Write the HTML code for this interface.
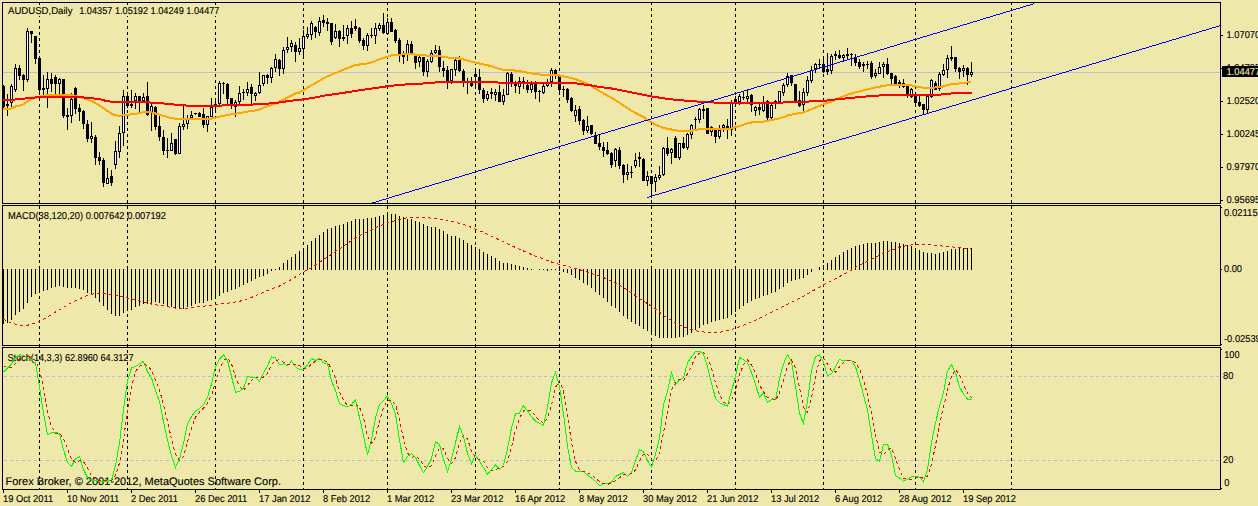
<!DOCTYPE html>
<html><head><meta charset="utf-8"><title>AUDUSD,Daily</title>
<style>html,body{margin:0;padding:0;background:#EEE8AA;overflow:hidden}body{width:1258px;height:506px;font-family:"Liberation Sans",sans-serif}svg{display:block}</style>
</head><body>
<svg width="1258" height="506" viewBox="0 0 1258 506" shape-rendering="crispEdges" text-rendering="geometricPrecision" font-family="Liberation Sans, sans-serif" style="display:block">
<rect x="0" y="0" width="1258" height="506" fill="#EEE8AA" />
<g id="sublabels">
<text x="8" y="219" font-size="10" fill="#000" stroke="#000" stroke-width="0.12" textLength="158" lengthAdjust="spacingAndGlyphs" text-anchor="start">MACD(38,120,20) 0.007642 0.007192</text>
<text x="7.5" y="361" font-size="10" fill="#000" stroke="#000" stroke-width="0.12" textLength="126" lengthAdjust="spacingAndGlyphs" text-anchor="start">Stoch(14,3,3) 62.8960 64.3127</text>
<text x="5.5" y="485" font-size="11" fill="#000" stroke="#000" stroke-width="0.12" textLength="275.5" lengthAdjust="spacingAndGlyphs" text-anchor="start">Forex Broker, © 2001-2012, MetaQuotes Software Corp.</text>
</g>
<g id="grid">
<rect x="3" y="72" width="1217" height="1" fill="#C0C0C8" />
<line x1="39.5" y1="2" x2="39.5" y2="490" stroke="#000" stroke-width="1" stroke-dasharray="3 3" stroke-dashoffset="0"/>
<line x1="127.5" y1="2" x2="127.5" y2="490" stroke="#000" stroke-width="1" stroke-dasharray="3 3" stroke-dashoffset="0"/>
<line x1="215.5" y1="2" x2="215.5" y2="490" stroke="#000" stroke-width="1" stroke-dasharray="3 3" stroke-dashoffset="0"/>
<line x1="303.5" y1="2" x2="303.5" y2="490" stroke="#000" stroke-width="1" stroke-dasharray="3 3" stroke-dashoffset="0"/>
<line x1="387.5" y1="2" x2="387.5" y2="490" stroke="#000" stroke-width="1" stroke-dasharray="3 3" stroke-dashoffset="0"/>
<line x1="475.5" y1="2" x2="475.5" y2="490" stroke="#000" stroke-width="1" stroke-dasharray="3 3" stroke-dashoffset="0"/>
<line x1="559.5" y1="2" x2="559.5" y2="490" stroke="#000" stroke-width="1" stroke-dasharray="3 3" stroke-dashoffset="0"/>
<line x1="651.5" y1="2" x2="651.5" y2="490" stroke="#000" stroke-width="1" stroke-dasharray="3 3" stroke-dashoffset="0"/>
<line x1="735.5" y1="2" x2="735.5" y2="490" stroke="#000" stroke-width="1" stroke-dasharray="3 3" stroke-dashoffset="0"/>
<line x1="823.5" y1="2" x2="823.5" y2="490" stroke="#000" stroke-width="1" stroke-dasharray="3 3" stroke-dashoffset="0"/>
<line x1="915.5" y1="2" x2="915.5" y2="490" stroke="#000" stroke-width="1" stroke-dasharray="3 3" stroke-dashoffset="0"/>
<line x1="1011.5" y1="2" x2="1011.5" y2="490" stroke="#000" stroke-width="1" stroke-dasharray="3 3" stroke-dashoffset="0"/>
<line x1="4" y1="376.5" x2="1220" y2="376.5" stroke="#B8BCD0" stroke-width="1" stroke-dasharray="3 3"/>
<line x1="4" y1="460.5" x2="1220" y2="460.5" stroke="#B8BCD0" stroke-width="1" stroke-dasharray="3 3"/>
</g>
<rect x="8" y="5" width="212" height="11" fill="#EEE8AA" />
<text x="8" y="14" font-size="10" fill="#000" stroke="#000" stroke-width="0.12" textLength="64.5" lengthAdjust="spacingAndGlyphs" text-anchor="start">AUDUSD,Daily</text>
<text x="79.2" y="14" font-size="10" fill="#000" stroke="#000" stroke-width="0.12" textLength="140.3" lengthAdjust="spacingAndGlyphs" text-anchor="start">1.04357 1.05192 1.04249 1.04477</text>
<g id="candles">
<rect x="3" y="85" width="1" height="25" fill="#000" />
<rect x="2" y="86" width="3" height="21" fill="#000" />
<rect x="7" y="94" width="1" height="22" fill="#000" />
<rect x="6" y="104" width="3" height="2" fill="#000" />
<rect x="11" y="84" width="1" height="23" fill="#000" />
<rect x="10" y="86" width="3" height="17" fill="#000" />
<rect x="11" y="87" width="1" height="15" fill="#FFF" />
<rect x="15" y="64" width="1" height="28" fill="#000" />
<rect x="14" y="68" width="3" height="22" fill="#000" />
<rect x="15" y="69" width="1" height="20" fill="#FFF" />
<rect x="19" y="65" width="1" height="15" fill="#000" />
<rect x="18" y="68" width="3" height="8" fill="#000" />
<rect x="23" y="74" width="1" height="17" fill="#000" />
<rect x="22" y="75" width="3" height="5" fill="#000" />
<rect x="27" y="28" width="1" height="54" fill="#000" />
<rect x="26" y="31" width="3" height="49" fill="#000" />
<rect x="27" y="32" width="1" height="47" fill="#FFF" />
<rect x="31" y="31" width="1" height="12" fill="#000" />
<rect x="30" y="31" width="3" height="3" fill="#000" />
<rect x="35" y="36" width="1" height="28" fill="#000" />
<rect x="34" y="36" width="3" height="23" fill="#000" />
<rect x="39" y="58" width="1" height="36" fill="#000" />
<rect x="38" y="58" width="3" height="32" fill="#000" />
<rect x="43" y="75" width="1" height="20" fill="#000" />
<rect x="42" y="88" width="3" height="2" fill="#000" />
<rect x="47" y="72" width="1" height="36" fill="#000" />
<rect x="46" y="79" width="3" height="10" fill="#000" />
<rect x="47" y="80" width="1" height="8" fill="#FFF" />
<rect x="51" y="73" width="1" height="19" fill="#000" />
<rect x="50" y="79" width="3" height="5" fill="#000" />
<rect x="55" y="75" width="1" height="20" fill="#000" />
<rect x="54" y="77" width="3" height="7" fill="#000" />
<rect x="59" y="78" width="1" height="16" fill="#000" />
<rect x="58" y="79" width="3" height="5" fill="#000" />
<rect x="59" y="80" width="1" height="3" fill="#FFF" />
<rect x="63" y="79" width="1" height="39" fill="#000" />
<rect x="62" y="79" width="3" height="37" fill="#000" />
<rect x="67" y="108" width="1" height="22" fill="#000" />
<rect x="66" y="115" width="3" height="2" fill="#000" />
<rect x="71" y="93" width="1" height="30" fill="#000" />
<rect x="70" y="99" width="3" height="17" fill="#000" />
<rect x="71" y="100" width="1" height="15" fill="#FFF" />
<rect x="75" y="87" width="1" height="27" fill="#000" />
<rect x="74" y="88" width="3" height="21" fill="#000" />
<rect x="79" y="104" width="1" height="17" fill="#000" />
<rect x="78" y="108" width="3" height="4" fill="#000" />
<rect x="83" y="110" width="1" height="19" fill="#000" />
<rect x="82" y="111" width="3" height="13" fill="#000" />
<rect x="87" y="120" width="1" height="22" fill="#000" />
<rect x="86" y="124" width="3" height="15" fill="#000" />
<rect x="91" y="122" width="1" height="21" fill="#000" />
<rect x="90" y="136" width="3" height="3" fill="#000" />
<rect x="91" y="137" width="1" height="1" fill="#FFF" />
<rect x="95" y="135" width="1" height="30" fill="#000" />
<rect x="94" y="137" width="3" height="21" fill="#000" />
<rect x="99" y="152" width="1" height="13" fill="#000" />
<rect x="98" y="157" width="3" height="4" fill="#000" />
<rect x="103" y="158" width="1" height="29" fill="#000" />
<rect x="102" y="160" width="3" height="23" fill="#000" />
<rect x="107" y="168" width="1" height="16" fill="#000" />
<rect x="106" y="178" width="3" height="6" fill="#000" />
<rect x="107" y="179" width="1" height="4" fill="#FFF" />
<rect x="111" y="170" width="1" height="16" fill="#000" />
<rect x="110" y="176" width="3" height="7" fill="#000" />
<rect x="115" y="141" width="1" height="28" fill="#000" />
<rect x="114" y="151" width="3" height="14" fill="#000" />
<rect x="115" y="152" width="1" height="12" fill="#FFF" />
<rect x="119" y="126" width="1" height="32" fill="#000" />
<rect x="118" y="133" width="3" height="19" fill="#000" />
<rect x="119" y="134" width="1" height="17" fill="#FFF" />
<rect x="123" y="90" width="1" height="56" fill="#000" />
<rect x="122" y="96" width="3" height="37" fill="#000" />
<rect x="123" y="97" width="1" height="35" fill="#FFF" />
<rect x="127" y="92" width="1" height="16" fill="#000" />
<rect x="126" y="96" width="3" height="10" fill="#000" />
<rect x="131" y="90" width="1" height="18" fill="#000" />
<rect x="130" y="104" width="3" height="2" fill="#000" />
<rect x="135" y="93" width="1" height="16" fill="#000" />
<rect x="134" y="96" width="3" height="5" fill="#000" />
<rect x="135" y="97" width="1" height="3" fill="#FFF" />
<rect x="139" y="96" width="1" height="17" fill="#000" />
<rect x="138" y="96" width="3" height="5" fill="#000" />
<rect x="143" y="93" width="1" height="9" fill="#000" />
<rect x="142" y="97" width="3" height="4" fill="#000" />
<rect x="143" y="98" width="1" height="2" fill="#FFF" />
<rect x="147" y="82" width="1" height="34" fill="#000" />
<rect x="146" y="96" width="3" height="19" fill="#000" />
<rect x="151" y="104" width="1" height="27" fill="#000" />
<rect x="150" y="106" width="3" height="6" fill="#000" />
<rect x="151" y="107" width="1" height="4" fill="#FFF" />
<rect x="155" y="106" width="1" height="24" fill="#000" />
<rect x="154" y="107" width="3" height="20" fill="#000" />
<rect x="159" y="115" width="1" height="26" fill="#000" />
<rect x="158" y="126" width="3" height="11" fill="#000" />
<rect x="163" y="130" width="1" height="25" fill="#000" />
<rect x="162" y="137" width="3" height="14" fill="#000" />
<rect x="167" y="138" width="1" height="20" fill="#000" />
<rect x="166" y="150" width="3" height="1" fill="#000" />
<rect x="171" y="133" width="1" height="18" fill="#000" />
<rect x="170" y="143" width="3" height="8" fill="#000" />
<rect x="171" y="144" width="1" height="6" fill="#FFF" />
<rect x="175" y="139" width="1" height="16" fill="#000" />
<rect x="174" y="139" width="3" height="15" fill="#000" />
<rect x="179" y="123" width="1" height="31" fill="#000" />
<rect x="178" y="126" width="3" height="28" fill="#000" />
<rect x="179" y="127" width="1" height="26" fill="#FFF" />
<rect x="183" y="106" width="1" height="24" fill="#000" />
<rect x="182" y="124" width="3" height="3" fill="#000" />
<rect x="183" y="125" width="1" height="1" fill="#FFF" />
<rect x="187" y="115" width="1" height="14" fill="#000" />
<rect x="186" y="119" width="3" height="5" fill="#000" />
<rect x="187" y="120" width="1" height="3" fill="#FFF" />
<rect x="191" y="111" width="1" height="7" fill="#000" />
<rect x="190" y="115" width="3" height="3" fill="#000" />
<rect x="191" y="116" width="1" height="1" fill="#FFF" />
<rect x="195" y="113" width="1" height="2" fill="#000" />
<rect x="194" y="113" width="3" height="1" fill="#000" />
<rect x="199" y="112" width="1" height="5" fill="#000" />
<rect x="198" y="113" width="3" height="4" fill="#000" />
<rect x="203" y="108" width="1" height="20" fill="#000" />
<rect x="202" y="114" width="3" height="11" fill="#000" />
<rect x="207" y="116" width="1" height="16" fill="#000" />
<rect x="206" y="116" width="3" height="9" fill="#000" />
<rect x="207" y="117" width="1" height="7" fill="#FFF" />
<rect x="211" y="98" width="1" height="19" fill="#000" />
<rect x="210" y="107" width="3" height="10" fill="#000" />
<rect x="211" y="108" width="1" height="8" fill="#FFF" />
<rect x="215" y="98" width="1" height="15" fill="#000" />
<rect x="214" y="104" width="3" height="2" fill="#000" />
<rect x="219" y="81" width="1" height="24" fill="#000" />
<rect x="218" y="83" width="3" height="21" fill="#000" />
<rect x="219" y="84" width="1" height="19" fill="#FFF" />
<rect x="223" y="82" width="1" height="12" fill="#000" />
<rect x="222" y="83" width="3" height="1" fill="#000" />
<rect x="227" y="83" width="1" height="21" fill="#000" />
<rect x="226" y="84" width="3" height="15" fill="#000" />
<rect x="231" y="98" width="1" height="11" fill="#000" />
<rect x="230" y="98" width="3" height="6" fill="#000" />
<rect x="235" y="100" width="1" height="17" fill="#000" />
<rect x="234" y="102" width="3" height="5" fill="#000" />
<rect x="235" y="103" width="1" height="3" fill="#FFF" />
<rect x="239" y="86" width="1" height="18" fill="#000" />
<rect x="238" y="93" width="3" height="9" fill="#000" />
<rect x="239" y="94" width="1" height="7" fill="#FFF" />
<rect x="243" y="89" width="1" height="11" fill="#000" />
<rect x="242" y="92" width="3" height="1" fill="#000" />
<rect x="247" y="82" width="1" height="14" fill="#000" />
<rect x="246" y="89" width="3" height="4" fill="#000" />
<rect x="247" y="90" width="1" height="2" fill="#FFF" />
<rect x="251" y="84" width="1" height="20" fill="#000" />
<rect x="250" y="87" width="3" height="7" fill="#000" />
<rect x="255" y="92" width="1" height="9" fill="#000" />
<rect x="254" y="93" width="3" height="3" fill="#000" />
<rect x="255" y="94" width="1" height="1" fill="#FFF" />
<rect x="259" y="72" width="1" height="22" fill="#000" />
<rect x="258" y="85" width="3" height="8" fill="#000" />
<rect x="259" y="86" width="1" height="6" fill="#FFF" />
<rect x="263" y="75" width="1" height="11" fill="#000" />
<rect x="262" y="75" width="3" height="9" fill="#000" />
<rect x="263" y="76" width="1" height="7" fill="#FFF" />
<rect x="267" y="74" width="1" height="10" fill="#000" />
<rect x="266" y="75" width="3" height="3" fill="#000" />
<rect x="271" y="67" width="1" height="16" fill="#000" />
<rect x="270" y="68" width="3" height="10" fill="#000" />
<rect x="271" y="69" width="1" height="8" fill="#FFF" />
<rect x="275" y="54" width="1" height="18" fill="#000" />
<rect x="274" y="59" width="3" height="9" fill="#000" />
<rect x="275" y="60" width="1" height="7" fill="#FFF" />
<rect x="279" y="59" width="1" height="17" fill="#000" />
<rect x="278" y="60" width="3" height="9" fill="#000" />
<rect x="283" y="47" width="1" height="27" fill="#000" />
<rect x="282" y="50" width="3" height="19" fill="#000" />
<rect x="283" y="51" width="1" height="17" fill="#FFF" />
<rect x="287" y="37" width="1" height="16" fill="#000" />
<rect x="286" y="47" width="3" height="3" fill="#000" />
<rect x="287" y="48" width="1" height="1" fill="#FFF" />
<rect x="291" y="40" width="1" height="12" fill="#000" />
<rect x="290" y="43" width="3" height="4" fill="#000" />
<rect x="291" y="44" width="1" height="2" fill="#FFF" />
<rect x="295" y="42" width="1" height="20" fill="#000" />
<rect x="294" y="45" width="3" height="7" fill="#000" />
<rect x="299" y="38" width="1" height="17" fill="#000" />
<rect x="298" y="48" width="3" height="4" fill="#000" />
<rect x="299" y="49" width="1" height="2" fill="#FFF" />
<rect x="303" y="30" width="1" height="29" fill="#000" />
<rect x="302" y="36" width="3" height="13" fill="#000" />
<rect x="303" y="37" width="1" height="11" fill="#FFF" />
<rect x="307" y="27" width="1" height="12" fill="#000" />
<rect x="306" y="34" width="3" height="3" fill="#000" />
<rect x="307" y="35" width="1" height="1" fill="#FFF" />
<rect x="311" y="21" width="1" height="19" fill="#000" />
<rect x="310" y="23" width="3" height="12" fill="#000" />
<rect x="311" y="24" width="1" height="10" fill="#FFF" />
<rect x="315" y="26" width="1" height="12" fill="#000" />
<rect x="314" y="27" width="3" height="5" fill="#000" />
<rect x="319" y="17" width="1" height="19" fill="#000" />
<rect x="318" y="21" width="3" height="12" fill="#000" />
<rect x="319" y="22" width="1" height="10" fill="#FFF" />
<rect x="323" y="15" width="1" height="12" fill="#000" />
<rect x="322" y="20" width="3" height="3" fill="#000" />
<rect x="327" y="18" width="1" height="13" fill="#000" />
<rect x="326" y="22" width="3" height="2" fill="#000" />
<rect x="331" y="23" width="1" height="22" fill="#000" />
<rect x="330" y="23" width="3" height="19" fill="#000" />
<rect x="335" y="24" width="1" height="15" fill="#000" />
<rect x="334" y="31" width="3" height="7" fill="#000" />
<rect x="335" y="32" width="1" height="5" fill="#FFF" />
<rect x="339" y="30" width="1" height="17" fill="#000" />
<rect x="338" y="31" width="3" height="8" fill="#000" />
<rect x="343" y="25" width="1" height="16" fill="#000" />
<rect x="342" y="37" width="3" height="2" fill="#000" />
<rect x="347" y="25" width="1" height="19" fill="#000" />
<rect x="346" y="28" width="3" height="8" fill="#000" />
<rect x="347" y="29" width="1" height="6" fill="#FFF" />
<rect x="351" y="21" width="1" height="17" fill="#000" />
<rect x="350" y="28" width="3" height="6" fill="#000" />
<rect x="355" y="19" width="1" height="12" fill="#000" />
<rect x="354" y="26" width="3" height="3" fill="#000" />
<rect x="359" y="27" width="1" height="16" fill="#000" />
<rect x="358" y="28" width="3" height="13" fill="#000" />
<rect x="363" y="38" width="1" height="12" fill="#000" />
<rect x="362" y="40" width="3" height="6" fill="#000" />
<rect x="367" y="33" width="1" height="18" fill="#000" />
<rect x="366" y="35" width="3" height="11" fill="#000" />
<rect x="367" y="36" width="1" height="9" fill="#FFF" />
<rect x="371" y="28" width="1" height="10" fill="#000" />
<rect x="370" y="35" width="3" height="1" fill="#000" />
<rect x="375" y="23" width="1" height="21" fill="#000" />
<rect x="374" y="28" width="3" height="8" fill="#000" />
<rect x="375" y="29" width="1" height="6" fill="#FFF" />
<rect x="379" y="23" width="1" height="8" fill="#000" />
<rect x="378" y="25" width="3" height="4" fill="#000" />
<rect x="379" y="26" width="1" height="2" fill="#FFF" />
<rect x="383" y="13" width="1" height="21" fill="#000" />
<rect x="382" y="25" width="3" height="8" fill="#000" />
<rect x="387" y="18" width="1" height="17" fill="#000" />
<rect x="386" y="22" width="3" height="12" fill="#000" />
<rect x="387" y="23" width="1" height="10" fill="#FFF" />
<rect x="391" y="18" width="1" height="14" fill="#000" />
<rect x="390" y="22" width="3" height="10" fill="#000" />
<rect x="395" y="29" width="1" height="14" fill="#000" />
<rect x="394" y="30" width="3" height="11" fill="#000" />
<rect x="399" y="38" width="1" height="24" fill="#000" />
<rect x="398" y="40" width="3" height="14" fill="#000" />
<rect x="403" y="51" width="1" height="13" fill="#000" />
<rect x="402" y="55" width="3" height="2" fill="#000" />
<rect x="407" y="40" width="1" height="21" fill="#000" />
<rect x="406" y="44" width="3" height="10" fill="#000" />
<rect x="407" y="45" width="1" height="8" fill="#FFF" />
<rect x="411" y="41" width="1" height="13" fill="#000" />
<rect x="410" y="44" width="3" height="10" fill="#000" />
<rect x="415" y="55" width="1" height="14" fill="#000" />
<rect x="414" y="56" width="3" height="7" fill="#000" />
<rect x="419" y="56" width="1" height="11" fill="#000" />
<rect x="418" y="57" width="3" height="5" fill="#000" />
<rect x="419" y="58" width="1" height="3" fill="#FFF" />
<rect x="423" y="57" width="1" height="19" fill="#000" />
<rect x="422" y="57" width="3" height="15" fill="#000" />
<rect x="427" y="59" width="1" height="18" fill="#000" />
<rect x="426" y="61" width="3" height="11" fill="#000" />
<rect x="427" y="62" width="1" height="9" fill="#FFF" />
<rect x="431" y="50" width="1" height="13" fill="#000" />
<rect x="430" y="53" width="3" height="9" fill="#000" />
<rect x="431" y="54" width="1" height="7" fill="#FFF" />
<rect x="435" y="45" width="1" height="9" fill="#000" />
<rect x="434" y="50" width="3" height="3" fill="#000" />
<rect x="435" y="51" width="1" height="1" fill="#FFF" />
<rect x="439" y="46" width="1" height="26" fill="#000" />
<rect x="438" y="50" width="3" height="17" fill="#000" />
<rect x="443" y="61" width="1" height="16" fill="#000" />
<rect x="442" y="68" width="3" height="3" fill="#000" />
<rect x="447" y="66" width="1" height="23" fill="#000" />
<rect x="446" y="70" width="3" height="12" fill="#000" />
<rect x="451" y="69" width="1" height="15" fill="#000" />
<rect x="450" y="69" width="3" height="12" fill="#000" />
<rect x="451" y="70" width="1" height="10" fill="#FFF" />
<rect x="455" y="59" width="1" height="17" fill="#000" />
<rect x="454" y="60" width="3" height="10" fill="#000" />
<rect x="455" y="61" width="1" height="8" fill="#FFF" />
<rect x="459" y="56" width="1" height="16" fill="#000" />
<rect x="458" y="60" width="3" height="11" fill="#000" />
<rect x="463" y="69" width="1" height="18" fill="#000" />
<rect x="462" y="71" width="3" height="10" fill="#000" />
<rect x="467" y="78" width="1" height="16" fill="#000" />
<rect x="466" y="82" width="3" height="1" fill="#000" />
<rect x="471" y="77" width="1" height="10" fill="#000" />
<rect x="470" y="83" width="3" height="3" fill="#000" />
<rect x="475" y="70" width="1" height="18" fill="#000" />
<rect x="474" y="74" width="3" height="3" fill="#000" />
<rect x="479" y="69" width="1" height="25" fill="#000" />
<rect x="478" y="77" width="3" height="13" fill="#000" />
<rect x="483" y="88" width="1" height="15" fill="#000" />
<rect x="482" y="90" width="3" height="9" fill="#000" />
<rect x="487" y="91" width="1" height="10" fill="#000" />
<rect x="486" y="94" width="3" height="5" fill="#000" />
<rect x="487" y="95" width="1" height="3" fill="#FFF" />
<rect x="491" y="88" width="1" height="11" fill="#000" />
<rect x="490" y="92" width="3" height="2" fill="#000" />
<rect x="495" y="89" width="1" height="12" fill="#000" />
<rect x="494" y="92" width="3" height="3" fill="#000" />
<rect x="495" y="93" width="1" height="1" fill="#FFF" />
<rect x="499" y="85" width="1" height="17" fill="#000" />
<rect x="498" y="92" width="3" height="10" fill="#000" />
<rect x="503" y="89" width="1" height="16" fill="#000" />
<rect x="502" y="95" width="3" height="7" fill="#000" />
<rect x="503" y="96" width="1" height="5" fill="#FFF" />
<rect x="507" y="72" width="1" height="23" fill="#000" />
<rect x="506" y="73" width="3" height="22" fill="#000" />
<rect x="507" y="74" width="1" height="20" fill="#FFF" />
<rect x="511" y="72" width="1" height="15" fill="#000" />
<rect x="510" y="74" width="3" height="9" fill="#000" />
<rect x="515" y="81" width="1" height="12" fill="#000" />
<rect x="514" y="83" width="3" height="3" fill="#000" />
<rect x="519" y="77" width="1" height="17" fill="#000" />
<rect x="518" y="81" width="3" height="6" fill="#000" />
<rect x="519" y="82" width="1" height="4" fill="#FFF" />
<rect x="523" y="77" width="1" height="12" fill="#000" />
<rect x="522" y="81" width="3" height="3" fill="#000" />
<rect x="527" y="80" width="1" height="13" fill="#000" />
<rect x="526" y="85" width="3" height="5" fill="#000" />
<rect x="531" y="81" width="1" height="12" fill="#000" />
<rect x="530" y="84" width="3" height="6" fill="#000" />
<rect x="531" y="85" width="1" height="4" fill="#FFF" />
<rect x="535" y="81" width="1" height="18" fill="#000" />
<rect x="534" y="84" width="3" height="8" fill="#000" />
<rect x="539" y="90" width="1" height="12" fill="#000" />
<rect x="538" y="91" width="3" height="1" fill="#000" />
<rect x="543" y="84" width="1" height="10" fill="#000" />
<rect x="542" y="86" width="3" height="7" fill="#000" />
<rect x="543" y="87" width="1" height="5" fill="#FFF" />
<rect x="547" y="79" width="1" height="8" fill="#000" />
<rect x="546" y="82" width="3" height="4" fill="#000" />
<rect x="547" y="83" width="1" height="2" fill="#FFF" />
<rect x="551" y="68" width="1" height="19" fill="#000" />
<rect x="550" y="70" width="3" height="12" fill="#000" />
<rect x="551" y="71" width="1" height="10" fill="#FFF" />
<rect x="555" y="69" width="1" height="10" fill="#000" />
<rect x="554" y="70" width="3" height="4" fill="#000" />
<rect x="559" y="74" width="1" height="21" fill="#000" />
<rect x="558" y="76" width="3" height="14" fill="#000" />
<rect x="563" y="86" width="1" height="11" fill="#000" />
<rect x="562" y="89" width="3" height="1" fill="#000" />
<rect x="567" y="88" width="1" height="15" fill="#000" />
<rect x="566" y="89" width="3" height="11" fill="#000" />
<rect x="571" y="97" width="1" height="15" fill="#000" />
<rect x="570" y="98" width="3" height="13" fill="#000" />
<rect x="575" y="105" width="1" height="17" fill="#000" />
<rect x="574" y="110" width="3" height="6" fill="#000" />
<rect x="575" y="111" width="1" height="4" fill="#FFF" />
<rect x="579" y="106" width="1" height="19" fill="#000" />
<rect x="578" y="109" width="3" height="12" fill="#000" />
<rect x="583" y="119" width="1" height="16" fill="#000" />
<rect x="582" y="120" width="3" height="11" fill="#000" />
<rect x="587" y="116" width="1" height="17" fill="#000" />
<rect x="586" y="126" width="3" height="5" fill="#000" />
<rect x="587" y="127" width="1" height="3" fill="#FFF" />
<rect x="591" y="125" width="1" height="10" fill="#000" />
<rect x="590" y="125" width="3" height="9" fill="#000" />
<rect x="595" y="132" width="1" height="12" fill="#000" />
<rect x="594" y="135" width="3" height="9" fill="#000" />
<rect x="599" y="135" width="1" height="15" fill="#000" />
<rect x="598" y="143" width="3" height="4" fill="#000" />
<rect x="603" y="142" width="1" height="15" fill="#000" />
<rect x="602" y="147" width="3" height="4" fill="#000" />
<rect x="607" y="142" width="1" height="13" fill="#000" />
<rect x="606" y="150" width="3" height="4" fill="#000" />
<rect x="611" y="152" width="1" height="16" fill="#000" />
<rect x="610" y="153" width="3" height="12" fill="#000" />
<rect x="615" y="148" width="1" height="19" fill="#000" />
<rect x="614" y="149" width="3" height="12" fill="#000" />
<rect x="615" y="150" width="1" height="10" fill="#FFF" />
<rect x="619" y="147" width="1" height="22" fill="#000" />
<rect x="618" y="150" width="3" height="16" fill="#000" />
<rect x="623" y="164" width="1" height="19" fill="#000" />
<rect x="622" y="165" width="3" height="10" fill="#000" />
<rect x="627" y="164" width="1" height="16" fill="#000" />
<rect x="626" y="172" width="3" height="3" fill="#000" />
<rect x="627" y="173" width="1" height="1" fill="#FFF" />
<rect x="631" y="166" width="1" height="12" fill="#000" />
<rect x="630" y="172" width="3" height="1" fill="#000" />
<rect x="635" y="153" width="1" height="15" fill="#000" />
<rect x="634" y="160" width="3" height="6" fill="#000" />
<rect x="635" y="161" width="1" height="4" fill="#FFF" />
<rect x="639" y="152" width="1" height="15" fill="#000" />
<rect x="638" y="157" width="3" height="2" fill="#000" />
<rect x="643" y="158" width="1" height="23" fill="#000" />
<rect x="642" y="159" width="3" height="22" fill="#000" />
<rect x="647" y="171" width="1" height="15" fill="#000" />
<rect x="646" y="176" width="3" height="5" fill="#000" />
<rect x="647" y="177" width="1" height="3" fill="#FFF" />
<rect x="651" y="176" width="1" height="22" fill="#000" />
<rect x="650" y="176" width="3" height="8" fill="#000" />
<rect x="655" y="174" width="1" height="18" fill="#000" />
<rect x="654" y="177" width="3" height="5" fill="#000" />
<rect x="655" y="178" width="1" height="3" fill="#FFF" />
<rect x="659" y="166" width="1" height="14" fill="#000" />
<rect x="658" y="175" width="3" height="3" fill="#000" />
<rect x="659" y="176" width="1" height="1" fill="#FFF" />
<rect x="663" y="147" width="1" height="29" fill="#000" />
<rect x="662" y="148" width="3" height="27" fill="#000" />
<rect x="663" y="149" width="1" height="25" fill="#FFF" />
<rect x="667" y="137" width="1" height="19" fill="#000" />
<rect x="666" y="148" width="3" height="6" fill="#000" />
<rect x="671" y="148" width="1" height="16" fill="#000" />
<rect x="670" y="149" width="3" height="4" fill="#000" />
<rect x="671" y="150" width="1" height="2" fill="#FFF" />
<rect x="675" y="136" width="1" height="22" fill="#000" />
<rect x="674" y="138" width="3" height="20" fill="#000" />
<rect x="679" y="143" width="1" height="17" fill="#000" />
<rect x="678" y="143" width="3" height="15" fill="#000" />
<rect x="679" y="144" width="1" height="13" fill="#FFF" />
<rect x="683" y="137" width="1" height="12" fill="#000" />
<rect x="682" y="143" width="3" height="5" fill="#000" />
<rect x="687" y="133" width="1" height="17" fill="#000" />
<rect x="686" y="134" width="3" height="14" fill="#000" />
<rect x="687" y="135" width="1" height="12" fill="#FFF" />
<rect x="691" y="124" width="1" height="15" fill="#000" />
<rect x="690" y="125" width="3" height="10" fill="#000" />
<rect x="691" y="126" width="1" height="8" fill="#FFF" />
<rect x="695" y="117" width="1" height="12" fill="#000" />
<rect x="694" y="119" width="3" height="1" fill="#000" />
<rect x="699" y="108" width="1" height="15" fill="#000" />
<rect x="698" y="109" width="3" height="11" fill="#000" />
<rect x="699" y="110" width="1" height="9" fill="#FFF" />
<rect x="703" y="105" width="1" height="14" fill="#000" />
<rect x="702" y="109" width="3" height="2" fill="#000" />
<rect x="707" y="108" width="1" height="26" fill="#000" />
<rect x="706" y="108" width="3" height="26" fill="#000" />
<rect x="711" y="126" width="1" height="10" fill="#000" />
<rect x="710" y="127" width="3" height="5" fill="#000" />
<rect x="711" y="128" width="1" height="3" fill="#FFF" />
<rect x="715" y="128" width="1" height="15" fill="#000" />
<rect x="714" y="129" width="3" height="8" fill="#000" />
<rect x="719" y="125" width="1" height="14" fill="#000" />
<rect x="718" y="130" width="3" height="7" fill="#000" />
<rect x="719" y="131" width="1" height="5" fill="#FFF" />
<rect x="723" y="124" width="1" height="8" fill="#000" />
<rect x="722" y="125" width="3" height="3" fill="#000" />
<rect x="723" y="126" width="1" height="1" fill="#FFF" />
<rect x="727" y="119" width="1" height="20" fill="#000" />
<rect x="726" y="126" width="3" height="4" fill="#000" />
<rect x="731" y="100" width="1" height="36" fill="#000" />
<rect x="730" y="102" width="3" height="28" fill="#000" />
<rect x="731" y="103" width="1" height="26" fill="#FFF" />
<rect x="735" y="96" width="1" height="10" fill="#000" />
<rect x="734" y="99" width="3" height="4" fill="#000" />
<rect x="739" y="94" width="1" height="11" fill="#000" />
<rect x="738" y="96" width="3" height="6" fill="#000" />
<rect x="739" y="97" width="1" height="4" fill="#FFF" />
<rect x="743" y="92" width="1" height="8" fill="#000" />
<rect x="742" y="97" width="3" height="1" fill="#000" />
<rect x="747" y="90" width="1" height="12" fill="#000" />
<rect x="746" y="96" width="3" height="3" fill="#000" />
<rect x="747" y="97" width="1" height="1" fill="#FFF" />
<rect x="751" y="94" width="1" height="18" fill="#000" />
<rect x="750" y="95" width="3" height="10" fill="#000" />
<rect x="755" y="106" width="1" height="10" fill="#000" />
<rect x="754" y="107" width="3" height="4" fill="#000" />
<rect x="755" y="108" width="1" height="2" fill="#FFF" />
<rect x="759" y="104" width="1" height="11" fill="#000" />
<rect x="758" y="107" width="3" height="3" fill="#000" />
<rect x="763" y="96" width="1" height="16" fill="#000" />
<rect x="762" y="102" width="3" height="9" fill="#000" />
<rect x="763" y="103" width="1" height="7" fill="#FFF" />
<rect x="767" y="100" width="1" height="22" fill="#000" />
<rect x="766" y="101" width="3" height="17" fill="#000" />
<rect x="771" y="104" width="1" height="15" fill="#000" />
<rect x="770" y="105" width="3" height="13" fill="#000" />
<rect x="771" y="106" width="1" height="11" fill="#FFF" />
<rect x="775" y="100" width="1" height="9" fill="#000" />
<rect x="774" y="101" width="3" height="1" fill="#000" />
<rect x="779" y="91" width="1" height="11" fill="#000" />
<rect x="778" y="91" width="3" height="11" fill="#000" />
<rect x="779" y="92" width="1" height="9" fill="#FFF" />
<rect x="783" y="83" width="1" height="13" fill="#000" />
<rect x="782" y="85" width="3" height="8" fill="#000" />
<rect x="783" y="86" width="1" height="6" fill="#FFF" />
<rect x="787" y="73" width="1" height="14" fill="#000" />
<rect x="786" y="76" width="3" height="9" fill="#000" />
<rect x="787" y="77" width="1" height="7" fill="#FFF" />
<rect x="791" y="75" width="1" height="11" fill="#000" />
<rect x="790" y="75" width="3" height="8" fill="#000" />
<rect x="795" y="84" width="1" height="18" fill="#000" />
<rect x="794" y="84" width="3" height="17" fill="#000" />
<rect x="799" y="91" width="1" height="16" fill="#000" />
<rect x="798" y="100" width="3" height="6" fill="#000" />
<rect x="803" y="88" width="1" height="23" fill="#000" />
<rect x="802" y="92" width="3" height="13" fill="#000" />
<rect x="803" y="93" width="1" height="11" fill="#FFF" />
<rect x="807" y="76" width="1" height="20" fill="#000" />
<rect x="806" y="80" width="3" height="13" fill="#000" />
<rect x="807" y="81" width="1" height="11" fill="#FFF" />
<rect x="811" y="66" width="1" height="17" fill="#000" />
<rect x="810" y="70" width="3" height="11" fill="#000" />
<rect x="811" y="71" width="1" height="9" fill="#FFF" />
<rect x="815" y="63" width="1" height="10" fill="#000" />
<rect x="814" y="64" width="3" height="5" fill="#000" />
<rect x="815" y="65" width="1" height="3" fill="#FFF" />
<rect x="819" y="59" width="1" height="9" fill="#000" />
<rect x="818" y="64" width="3" height="1" fill="#000" />
<rect x="823" y="56" width="1" height="17" fill="#000" />
<rect x="822" y="64" width="3" height="8" fill="#000" />
<rect x="827" y="53" width="1" height="22" fill="#000" />
<rect x="826" y="69" width="3" height="3" fill="#000" />
<rect x="831" y="54" width="1" height="20" fill="#000" />
<rect x="830" y="56" width="3" height="15" fill="#000" />
<rect x="831" y="57" width="1" height="13" fill="#FFF" />
<rect x="835" y="51" width="1" height="9" fill="#000" />
<rect x="834" y="54" width="3" height="2" fill="#000" />
<rect x="839" y="50" width="1" height="9" fill="#000" />
<rect x="838" y="55" width="3" height="3" fill="#000" />
<rect x="843" y="54" width="1" height="7" fill="#000" />
<rect x="842" y="55" width="3" height="3" fill="#000" />
<rect x="843" y="56" width="1" height="1" fill="#FFF" />
<rect x="847" y="48" width="1" height="11" fill="#000" />
<rect x="846" y="54" width="3" height="2" fill="#000" />
<rect x="851" y="53" width="1" height="13" fill="#000" />
<rect x="850" y="54" width="3" height="1" fill="#000" />
<rect x="855" y="54" width="1" height="12" fill="#000" />
<rect x="854" y="57" width="3" height="6" fill="#000" />
<rect x="859" y="59" width="1" height="10" fill="#000" />
<rect x="858" y="62" width="3" height="5" fill="#000" />
<rect x="863" y="62" width="1" height="10" fill="#000" />
<rect x="862" y="64" width="3" height="2" fill="#000" />
<rect x="867" y="61" width="1" height="8" fill="#000" />
<rect x="866" y="64" width="3" height="1" fill="#000" />
<rect x="871" y="61" width="1" height="18" fill="#000" />
<rect x="870" y="63" width="3" height="14" fill="#000" />
<rect x="875" y="69" width="1" height="9" fill="#000" />
<rect x="874" y="73" width="3" height="3" fill="#000" />
<rect x="875" y="74" width="1" height="1" fill="#FFF" />
<rect x="879" y="62" width="1" height="12" fill="#000" />
<rect x="878" y="67" width="3" height="7" fill="#000" />
<rect x="879" y="68" width="1" height="5" fill="#FFF" />
<rect x="883" y="62" width="1" height="16" fill="#000" />
<rect x="882" y="64" width="3" height="3" fill="#000" />
<rect x="883" y="65" width="1" height="1" fill="#FFF" />
<rect x="887" y="58" width="1" height="17" fill="#000" />
<rect x="886" y="64" width="3" height="10" fill="#000" />
<rect x="891" y="73" width="1" height="11" fill="#000" />
<rect x="890" y="73" width="3" height="6" fill="#000" />
<rect x="895" y="75" width="1" height="9" fill="#000" />
<rect x="894" y="76" width="3" height="8" fill="#000" />
<rect x="899" y="80" width="1" height="8" fill="#000" />
<rect x="898" y="82" width="3" height="2" fill="#000" />
<rect x="903" y="79" width="1" height="9" fill="#000" />
<rect x="902" y="83" width="3" height="4" fill="#000" />
<rect x="907" y="86" width="1" height="12" fill="#000" />
<rect x="906" y="86" width="3" height="8" fill="#000" />
<rect x="911" y="88" width="1" height="10" fill="#000" />
<rect x="910" y="89" width="3" height="8" fill="#000" />
<rect x="911" y="90" width="1" height="6" fill="#FFF" />
<rect x="915" y="92" width="1" height="15" fill="#000" />
<rect x="914" y="95" width="3" height="8" fill="#000" />
<rect x="919" y="96" width="1" height="11" fill="#000" />
<rect x="918" y="102" width="3" height="4" fill="#000" />
<rect x="923" y="104" width="1" height="10" fill="#000" />
<rect x="922" y="104" width="3" height="6" fill="#000" />
<rect x="927" y="96" width="1" height="18" fill="#000" />
<rect x="926" y="96" width="3" height="14" fill="#000" />
<rect x="927" y="97" width="1" height="12" fill="#FFF" />
<rect x="931" y="79" width="1" height="19" fill="#000" />
<rect x="930" y="80" width="3" height="17" fill="#000" />
<rect x="931" y="81" width="1" height="15" fill="#FFF" />
<rect x="935" y="81" width="1" height="9" fill="#000" />
<rect x="934" y="83" width="3" height="7" fill="#000" />
<rect x="939" y="72" width="1" height="19" fill="#000" />
<rect x="938" y="74" width="3" height="15" fill="#000" />
<rect x="939" y="75" width="1" height="13" fill="#FFF" />
<rect x="943" y="64" width="1" height="12" fill="#000" />
<rect x="942" y="70" width="3" height="5" fill="#000" />
<rect x="943" y="71" width="1" height="3" fill="#FFF" />
<rect x="947" y="55" width="1" height="23" fill="#000" />
<rect x="946" y="58" width="3" height="12" fill="#000" />
<rect x="947" y="59" width="1" height="10" fill="#FFF" />
<rect x="951" y="46" width="1" height="15" fill="#000" />
<rect x="950" y="57" width="3" height="2" fill="#000" />
<rect x="955" y="57" width="1" height="15" fill="#000" />
<rect x="954" y="57" width="3" height="12" fill="#000" />
<rect x="959" y="67" width="1" height="12" fill="#000" />
<rect x="958" y="68" width="3" height="4" fill="#000" />
<rect x="963" y="65" width="1" height="12" fill="#000" />
<rect x="962" y="68" width="3" height="3" fill="#000" />
<rect x="963" y="69" width="1" height="1" fill="#FFF" />
<rect x="967" y="67" width="1" height="18" fill="#000" />
<rect x="966" y="68" width="3" height="7" fill="#000" />
<rect x="971" y="62" width="1" height="15" fill="#000" />
<rect x="970" y="72" width="3" height="3" fill="#000" />
<rect x="971" y="73" width="1" height="1" fill="#FFF" />
</g>
<polyline points="3.5,108.9 7.5,108.8 11.5,108.5 15.5,106.5 19.5,105.6 23.5,104.3 27.5,101.5 31.5,99.2 35.5,97.8 39.5,96.8 43.5,95.7 47.5,95.1 51.5,94.7 55.5,94.7 59.5,94.7 63.5,94.8 67.5,95.1 71.5,95.4 75.5,95.8 79.5,97.1 83.5,98.4 87.5,99.7 91.5,100.9 95.5,103.1 99.5,105.4 103.5,108.2 107.5,111.0 111.5,113.6 115.5,115.3 119.5,115.8 123.5,115.3 127.5,114.8 131.5,114.3 135.5,113.8 139.5,113.0 143.5,112.2 147.5,112.1 151.5,112.4 155.5,113.5 159.5,114.7 163.5,115.9 167.5,117.0 171.5,118.1 175.5,118.7 179.5,118.8 183.5,118.8 187.5,118.9 191.5,118.9 195.5,118.9 199.5,118.9 203.5,118.9 207.5,118.9 211.5,118.6 215.5,117.6 219.5,116.7 223.5,115.8 227.5,114.9 231.5,114.3 235.5,113.7 239.5,113.2 243.5,112.4 247.5,111.6 251.5,110.9 255.5,110.4 259.5,109.5 263.5,107.8 267.5,106.3 271.5,105.0 275.5,103.5 279.5,101.4 283.5,99.4 287.5,97.4 291.5,95.4 295.5,93.5 299.5,92.5 303.5,90.1 307.5,87.5 311.5,85.3 315.5,83.0 319.5,80.7 323.5,78.3 327.5,76.4 331.5,74.7 335.5,73.0 339.5,71.4 343.5,69.7 347.5,68.1 351.5,66.5 355.5,65.1 359.5,64.5 363.5,63.9 367.5,63.4 371.5,62.4 375.5,60.8 379.5,59.3 383.5,58.0 387.5,56.6 391.5,55.3 395.5,54.9 399.5,54.7 403.5,54.4 407.5,54.2 411.5,54.2 415.5,54.6 419.5,55.0 423.5,55.3 427.5,55.7 431.5,56.0 435.5,56.1 439.5,56.2 443.5,56.8 447.5,57.5 451.5,57.8 455.5,58.0 459.5,58.5 463.5,59.5 467.5,60.6 471.5,61.6 475.5,62.6 479.5,63.5 483.5,64.4 487.5,65.2 491.5,66.4 495.5,67.6 499.5,69.1 503.5,69.8 507.5,70.0 511.5,70.2 515.5,70.6 519.5,71.1 523.5,71.9 527.5,72.7 531.5,73.4 535.5,74.1 539.5,74.5 543.5,74.9 547.5,75.0 551.5,75.0 555.5,75.0 559.5,75.5 563.5,76.4 567.5,77.2 571.5,78.1 575.5,79.2 579.5,80.7 583.5,82.3 587.5,84.0 591.5,86.3 595.5,88.6 599.5,91.1 603.5,93.4 607.5,95.6 611.5,97.8 615.5,100.1 619.5,102.8 623.5,105.5 627.5,108.1 631.5,110.7 635.5,113.1 639.5,114.9 643.5,117.0 647.5,119.9 651.5,122.3 655.5,124.7 659.5,126.4 663.5,127.9 667.5,128.7 671.5,129.5 675.5,130.2 679.5,130.9 683.5,131.0 687.5,131.0 691.5,130.7 695.5,130.0 699.5,129.3 703.5,129.1 707.5,129.0 711.5,128.9 715.5,128.9 719.5,128.9 723.5,128.9 727.5,128.9 731.5,128.4 735.5,127.2 739.5,126.0 743.5,124.8 747.5,123.4 751.5,122.5 755.5,122.2 759.5,122.0 763.5,121.6 767.5,120.8 771.5,120.1 775.5,119.2 779.5,118.4 783.5,117.1 787.5,115.5 791.5,114.6 795.5,113.8 799.5,113.1 803.5,112.4 807.5,110.9 811.5,109.2 815.5,107.6 819.5,105.9 823.5,104.3 827.5,102.8 831.5,101.5 835.5,99.8 839.5,97.9 843.5,96.2 847.5,94.6 851.5,93.5 855.5,92.4 859.5,91.3 863.5,90.3 867.5,89.3 871.5,88.3 875.5,87.4 879.5,86.7 883.5,85.9 887.5,85.2 891.5,85.0 895.5,84.8 899.5,84.7 903.5,84.8 907.5,84.9 911.5,85.4 915.5,86.3 919.5,87.3 923.5,87.7 927.5,87.7 931.5,87.7 935.5,87.5 939.5,87.2 943.5,86.3 947.5,85.1 951.5,84.2 955.5,83.9 959.5,83.4 963.5,82.9 967.5,82.5 971.5,82.3" fill="none" stroke="#FFA500" stroke-width="2" stroke-linejoin="round" />
<polyline points="3.5,100.3 7.5,100.1 11.5,99.8 15.5,99.5 19.5,99.1 23.5,98.7 27.5,98.3 31.5,97.9 35.5,97.4 39.5,97.2 43.5,97.1 47.5,97.0 51.5,97.0 55.5,97.0 59.5,97.0 63.5,97.0 67.5,97.0 71.5,97.0 75.5,97.0 79.5,97.3 83.5,97.5 87.5,97.8 91.5,98.3 95.5,98.7 99.5,99.2 103.5,100.2 107.5,101.3 111.5,101.6 115.5,101.7 119.5,101.7 123.5,101.8 127.5,101.8 131.5,101.9 135.5,102.0 139.5,102.0 143.5,102.1 147.5,102.3 151.5,102.6 155.5,102.9 159.5,103.2 163.5,103.5 167.5,103.9 171.5,104.3 175.5,104.7 179.5,105.0 183.5,105.3 187.5,105.6 191.5,105.8 195.5,105.9 199.5,106.0 203.5,106.1 207.5,106.2 211.5,106.0 215.5,105.9 219.5,105.7 223.5,105.4 227.5,105.2 231.5,104.9 235.5,104.9 239.5,104.8 243.5,104.8 247.5,104.7 251.5,104.6 255.5,104.3 259.5,104.1 263.5,103.8 267.5,103.6 271.5,103.3 275.5,103.0 279.5,102.4 283.5,101.8 287.5,101.2 291.5,100.7 295.5,100.3 299.5,99.9 303.5,99.3 307.5,98.7 311.5,98.1 315.5,97.4 319.5,96.6 323.5,95.8 327.5,95.1 331.5,94.6 335.5,94.0 339.5,93.4 343.5,92.8 347.5,92.2 351.5,91.6 355.5,90.9 359.5,90.3 363.5,89.7 367.5,89.2 371.5,88.6 375.5,88.0 379.5,87.4 383.5,86.8 387.5,86.2 391.5,85.8 395.5,85.4 399.5,84.9 403.5,84.6 407.5,84.3 411.5,84.0 415.5,83.8 419.5,83.6 423.5,83.5 427.5,83.2 431.5,82.9 435.5,82.5 439.5,82.3 443.5,82.3 447.5,82.2 451.5,82.1 455.5,82.0 459.5,82.0 463.5,81.9 467.5,81.9 471.5,81.8 475.5,81.8 479.5,81.9 483.5,81.9 487.5,82.0 491.5,82.0 495.5,82.2 499.5,82.7 503.5,82.8 507.5,82.8 511.5,82.8 515.5,82.8 519.5,82.8 523.5,82.8 527.5,82.8 531.5,82.8 535.5,82.8 539.5,82.8 543.5,82.8 547.5,82.8 551.5,82.8 555.5,82.8 559.5,82.8 563.5,82.8 567.5,82.8 571.5,82.8 575.5,83.3 579.5,83.9 583.5,84.4 587.5,84.9 591.5,85.5 595.5,86.3 599.5,87.0 603.5,87.5 607.5,88.0 611.5,88.5 615.5,89.2 619.5,90.0 623.5,90.8 627.5,91.6 631.5,92.4 635.5,93.2 639.5,94.0 643.5,94.8 647.5,95.6 651.5,96.4 655.5,97.0 659.5,97.7 663.5,98.3 667.5,98.9 671.5,99.4 675.5,99.8 679.5,100.2 683.5,100.5 687.5,100.8 691.5,101.1 695.5,101.4 699.5,101.7 703.5,101.9 707.5,102.1 711.5,102.3 715.5,102.7 719.5,103.0 723.5,103.0 727.5,103.0 731.5,103.0 735.5,103.0 739.5,103.0 743.5,103.0 747.5,103.0 751.5,103.0 755.5,103.0 759.5,103.0 763.5,102.9 767.5,102.9 771.5,102.8 775.5,102.8 779.5,102.7 783.5,102.5 787.5,102.4 791.5,102.3 795.5,102.1 799.5,102.0 803.5,101.8 807.5,101.6 811.5,101.4 815.5,101.3 819.5,101.1 823.5,100.9 827.5,100.5 831.5,100.0 835.5,99.5 839.5,99.1 843.5,98.7 847.5,98.3 851.5,97.9 855.5,97.5 859.5,97.1 863.5,96.7 867.5,96.4 871.5,96.1 875.5,95.8 879.5,95.5 883.5,95.3 887.5,95.2 891.5,95.1 895.5,95.0 899.5,94.9 903.5,94.8 907.5,94.8 911.5,94.8 915.5,94.8 919.5,94.8 923.5,94.8 927.5,94.7 931.5,94.7 935.5,94.7 939.5,94.7 943.5,94.3 947.5,93.6 951.5,93.5 955.5,93.3 959.5,92.8 963.5,92.8 967.5,92.8 971.5,92.8" fill="none" stroke="#FF0000" stroke-width="2" stroke-linejoin="round" />
<path fill="#0000FF" d="M372 202h4v1h-4zM376 201h3v1h-3zM379 200h3v1h-3zM382 199h4v1h-4zM386 198h3v1h-3zM389 197h3v1h-3zM392 196h3v1h-3zM395 195h4v1h-4zM399 194h3v1h-3zM402 193h3v1h-3zM405 192h4v1h-4zM409 191h3v1h-3zM412 190h3v1h-3zM415 189h4v1h-4zM419 188h3v1h-3zM422 187h3v1h-3zM425 186h4v1h-4zM429 185h3v1h-3zM432 184h3v1h-3zM435 183h4v1h-4zM439 182h3v1h-3zM442 181h3v1h-3zM445 180h4v1h-4zM449 179h3v1h-3zM452 178h3v1h-3zM455 177h4v1h-4zM459 176h3v1h-3zM462 175h3v1h-3zM465 174h4v1h-4zM469 173h3v1h-3zM472 172h3v1h-3zM475 171h3v1h-3zM478 170h4v1h-4zM482 169h3v1h-3zM485 168h3v1h-3zM488 167h4v1h-4zM492 166h3v1h-3zM495 165h3v1h-3zM498 164h4v1h-4zM502 163h3v1h-3zM505 162h3v1h-3zM508 161h4v1h-4zM512 160h3v1h-3zM515 159h3v1h-3zM518 158h4v1h-4zM522 157h3v1h-3zM525 156h3v1h-3zM528 155h4v1h-4zM532 154h3v1h-3zM535 153h3v1h-3zM538 152h4v1h-4zM542 151h3v1h-3zM545 150h3v1h-3zM548 149h4v1h-4zM552 148h3v1h-3zM555 147h3v1h-3zM558 146h3v1h-3zM561 145h4v1h-4zM565 144h3v1h-3zM568 143h3v1h-3zM571 142h4v1h-4zM575 141h3v1h-3zM578 140h3v1h-3zM581 139h4v1h-4zM585 138h3v1h-3zM588 137h3v1h-3zM591 136h4v1h-4zM595 135h3v1h-3zM598 134h3v1h-3zM601 133h4v1h-4zM605 132h3v1h-3zM608 131h3v1h-3zM611 130h4v1h-4zM615 129h3v1h-3zM618 128h3v1h-3zM621 127h4v1h-4zM625 126h3v1h-3zM628 125h3v1h-3zM631 124h4v1h-4zM635 123h3v1h-3zM638 122h3v1h-3zM641 121h3v1h-3zM644 120h4v1h-4zM648 119h3v1h-3zM651 118h3v1h-3zM654 117h4v1h-4zM658 116h3v1h-3zM661 115h3v1h-3zM664 114h4v1h-4zM668 113h3v1h-3zM671 112h3v1h-3zM674 111h4v1h-4zM678 110h3v1h-3zM681 109h3v1h-3zM684 108h4v1h-4zM688 107h3v1h-3zM691 106h3v1h-3zM694 105h4v1h-4zM698 104h3v1h-3zM701 103h3v1h-3zM704 102h4v1h-4zM708 101h3v1h-3zM711 100h3v1h-3zM714 99h4v1h-4zM718 98h3v1h-3zM721 97h3v1h-3zM724 96h4v1h-4zM728 95h3v1h-3zM731 94h3v1h-3zM734 93h3v1h-3zM737 92h4v1h-4zM741 91h3v1h-3zM744 90h3v1h-3zM747 89h4v1h-4zM751 88h3v1h-3zM754 87h3v1h-3zM757 86h4v1h-4zM761 85h3v1h-3zM764 84h3v1h-3zM767 83h4v1h-4zM771 82h3v1h-3zM774 81h3v1h-3zM777 80h4v1h-4zM781 79h3v1h-3zM784 78h3v1h-3zM787 77h4v1h-4zM791 76h3v1h-3zM794 75h3v1h-3zM797 74h4v1h-4zM801 73h3v1h-3zM804 72h3v1h-3zM807 71h4v1h-4zM811 70h3v1h-3zM814 69h3v1h-3zM817 68h3v1h-3zM820 67h4v1h-4zM824 66h3v1h-3zM827 65h3v1h-3zM830 64h4v1h-4zM834 63h3v1h-3zM837 62h3v1h-3zM840 61h4v1h-4zM844 60h3v1h-3zM847 59h3v1h-3zM850 58h4v1h-4zM854 57h3v1h-3zM857 56h3v1h-3zM860 55h4v1h-4zM864 54h3v1h-3zM867 53h3v1h-3zM870 52h4v1h-4zM874 51h3v1h-3zM877 50h3v1h-3zM880 49h4v1h-4zM884 48h3v1h-3zM887 47h3v1h-3zM890 46h4v1h-4zM894 45h3v1h-3zM897 44h3v1h-3zM900 43h3v1h-3zM903 42h4v1h-4zM907 41h3v1h-3zM910 40h3v1h-3zM913 39h4v1h-4zM917 38h3v1h-3zM920 37h3v1h-3zM923 36h4v1h-4zM927 35h3v1h-3zM930 34h3v1h-3zM933 33h4v1h-4zM937 32h3v1h-3zM940 31h3v1h-3zM943 30h4v1h-4zM947 29h3v1h-3zM950 28h3v1h-3zM953 27h4v1h-4zM957 26h3v1h-3zM960 25h3v1h-3zM963 24h4v1h-4zM967 23h3v1h-3zM970 22h3v1h-3zM973 21h4v1h-4zM977 20h3v1h-3zM980 19h3v1h-3zM983 18h3v1h-3zM986 17h4v1h-4zM990 16h3v1h-3zM993 15h3v1h-3zM996 14h4v1h-4zM1000 13h3v1h-3zM1003 12h3v1h-3zM1006 11h4v1h-4zM1010 10h3v1h-3zM1013 9h3v1h-3zM1016 8h4v1h-4zM1020 7h3v1h-3zM1023 6h3v1h-3zM1026 5h4v1h-4zM1030 4h3v1h-3zM1033 3h1v1h-1z"/>
<path fill="#0000FF" d="M647 197h2v1h-2zM649 196h3v1h-3zM652 195h3v1h-3zM655 194h4v1h-4zM659 193h3v1h-3zM662 192h4v1h-4zM666 191h3v1h-3zM669 190h3v1h-3zM672 189h4v1h-4zM676 188h3v1h-3zM679 187h3v1h-3zM682 186h4v1h-4zM686 185h3v1h-3zM689 184h3v1h-3zM692 183h4v1h-4zM696 182h3v1h-3zM699 181h3v1h-3zM702 180h4v1h-4zM706 179h3v1h-3zM709 178h3v1h-3zM712 177h4v1h-4zM716 176h3v1h-3zM719 175h3v1h-3zM722 174h4v1h-4zM726 173h3v1h-3zM729 172h3v1h-3zM732 171h4v1h-4zM736 170h3v1h-3zM739 169h3v1h-3zM742 168h4v1h-4zM746 167h3v1h-3zM749 166h3v1h-3zM752 165h4v1h-4zM756 164h3v1h-3zM759 163h3v1h-3zM762 162h4v1h-4zM766 161h3v1h-3zM769 160h3v1h-3zM772 159h4v1h-4zM776 158h3v1h-3zM779 157h3v1h-3zM782 156h4v1h-4zM786 155h3v1h-3zM789 154h3v1h-3zM792 153h4v1h-4zM796 152h3v1h-3zM799 151h3v1h-3zM802 150h4v1h-4zM806 149h3v1h-3zM809 148h3v1h-3zM812 147h4v1h-4zM816 146h3v1h-3zM819 145h3v1h-3zM822 144h4v1h-4zM826 143h3v1h-3zM829 142h3v1h-3zM832 141h4v1h-4zM836 140h3v1h-3zM839 139h3v1h-3zM842 138h4v1h-4zM846 137h3v1h-3zM849 136h3v1h-3zM852 135h4v1h-4zM856 134h3v1h-3zM859 133h3v1h-3zM862 132h4v1h-4zM866 131h3v1h-3zM869 130h3v1h-3zM872 129h4v1h-4zM876 128h3v1h-3zM879 127h3v1h-3zM882 126h4v1h-4zM886 125h3v1h-3zM889 124h3v1h-3zM892 123h4v1h-4zM896 122h3v1h-3zM899 121h3v1h-3zM902 120h4v1h-4zM906 119h3v1h-3zM909 118h3v1h-3zM912 117h4v1h-4zM916 116h3v1h-3zM919 115h3v1h-3zM922 114h4v1h-4zM926 113h3v1h-3zM929 112h3v1h-3zM932 111h4v1h-4zM936 110h3v1h-3zM939 109h3v1h-3zM942 108h4v1h-4zM946 107h3v1h-3zM949 106h3v1h-3zM952 105h4v1h-4zM956 104h3v1h-3zM959 103h3v1h-3zM962 102h4v1h-4zM966 101h3v1h-3zM969 100h3v1h-3zM972 99h4v1h-4zM976 98h3v1h-3zM979 97h3v1h-3zM982 96h4v1h-4zM986 95h3v1h-3zM989 94h3v1h-3zM992 93h4v1h-4zM996 92h3v1h-3zM999 91h3v1h-3zM1002 90h4v1h-4zM1006 89h3v1h-3zM1009 88h3v1h-3zM1012 87h4v1h-4zM1016 86h3v1h-3zM1019 85h3v1h-3zM1022 84h4v1h-4zM1026 83h3v1h-3zM1029 82h3v1h-3zM1032 81h4v1h-4zM1036 80h3v1h-3zM1039 79h3v1h-3zM1042 78h4v1h-4zM1046 77h3v1h-3zM1049 76h3v1h-3zM1052 75h4v1h-4zM1056 74h3v1h-3zM1059 73h3v1h-3zM1062 72h4v1h-4zM1066 71h3v1h-3zM1069 70h3v1h-3zM1072 69h4v1h-4zM1076 68h3v1h-3zM1079 67h3v1h-3zM1082 66h4v1h-4zM1086 65h3v1h-3zM1089 64h3v1h-3zM1092 63h4v1h-4zM1096 62h3v1h-3zM1099 61h3v1h-3zM1102 60h4v1h-4zM1106 59h3v1h-3zM1109 58h3v1h-3zM1112 57h4v1h-4zM1116 56h3v1h-3zM1119 55h3v1h-3zM1122 54h4v1h-4zM1126 53h3v1h-3zM1129 52h3v1h-3zM1132 51h4v1h-4zM1136 50h3v1h-3zM1139 49h3v1h-3zM1142 48h4v1h-4zM1146 47h3v1h-3zM1149 46h3v1h-3zM1152 45h4v1h-4zM1156 44h3v1h-3zM1159 43h3v1h-3zM1162 42h4v1h-4zM1166 41h3v1h-3zM1169 40h3v1h-3zM1172 39h4v1h-4zM1176 38h3v1h-3zM1179 37h3v1h-3zM1182 36h4v1h-4zM1186 35h3v1h-3zM1189 34h3v1h-3zM1192 33h4v1h-4zM1196 32h3v1h-3zM1199 31h3v1h-3zM1202 30h4v1h-4zM1206 29h3v1h-3zM1209 28h3v1h-3zM1212 27h4v1h-4zM1216 26h3v1h-3zM1219 25h1v1h-1z"/>
<g id="hist">
<rect x="3" y="269" width="1" height="55" fill="#000" />
<rect x="7" y="269" width="1" height="54" fill="#000" />
<rect x="11" y="269" width="1" height="51" fill="#000" />
<rect x="15" y="269" width="1" height="46" fill="#000" />
<rect x="19" y="269" width="1" height="43" fill="#000" />
<rect x="23" y="269" width="1" height="40" fill="#000" />
<rect x="27" y="269" width="1" height="34" fill="#000" />
<rect x="31" y="269" width="1" height="28" fill="#000" />
<rect x="35" y="269" width="1" height="25" fill="#000" />
<rect x="39" y="269" width="1" height="24" fill="#000" />
<rect x="43" y="269" width="1" height="22" fill="#000" />
<rect x="47" y="269" width="1" height="21" fill="#000" />
<rect x="51" y="269" width="1" height="19" fill="#000" />
<rect x="55" y="269" width="1" height="18" fill="#000" />
<rect x="59" y="269" width="1" height="17" fill="#000" />
<rect x="63" y="269" width="1" height="18" fill="#000" />
<rect x="67" y="269" width="1" height="19" fill="#000" />
<rect x="71" y="269" width="1" height="19" fill="#000" />
<rect x="75" y="269" width="1" height="19" fill="#000" />
<rect x="79" y="269" width="1" height="20" fill="#000" />
<rect x="83" y="269" width="1" height="21" fill="#000" />
<rect x="87" y="269" width="1" height="24" fill="#000" />
<rect x="91" y="269" width="1" height="26" fill="#000" />
<rect x="95" y="269" width="1" height="29" fill="#000" />
<rect x="99" y="269" width="1" height="33" fill="#000" />
<rect x="103" y="269" width="1" height="37" fill="#000" />
<rect x="107" y="269" width="1" height="41" fill="#000" />
<rect x="111" y="269" width="1" height="45" fill="#000" />
<rect x="115" y="269" width="1" height="47" fill="#000" />
<rect x="119" y="269" width="1" height="47" fill="#000" />
<rect x="123" y="269" width="1" height="44" fill="#000" />
<rect x="127" y="269" width="1" height="42" fill="#000" />
<rect x="131" y="269" width="1" height="41" fill="#000" />
<rect x="135" y="269" width="1" height="38" fill="#000" />
<rect x="139" y="269" width="1" height="37" fill="#000" />
<rect x="143" y="269" width="1" height="35" fill="#000" />
<rect x="147" y="269" width="1" height="35" fill="#000" />
<rect x="151" y="269" width="1" height="34" fill="#000" />
<rect x="155" y="269" width="1" height="33" fill="#000" />
<rect x="159" y="269" width="1" height="34" fill="#000" />
<rect x="163" y="269" width="1" height="35" fill="#000" />
<rect x="167" y="269" width="1" height="37" fill="#000" />
<rect x="171" y="269" width="1" height="38" fill="#000" />
<rect x="175" y="269" width="1" height="39" fill="#000" />
<rect x="179" y="269" width="1" height="40" fill="#000" />
<rect x="183" y="269" width="1" height="40" fill="#000" />
<rect x="187" y="269" width="1" height="38" fill="#000" />
<rect x="191" y="269" width="1" height="37" fill="#000" />
<rect x="195" y="269" width="1" height="35" fill="#000" />
<rect x="199" y="269" width="1" height="34" fill="#000" />
<rect x="203" y="269" width="1" height="34" fill="#000" />
<rect x="207" y="269" width="1" height="32" fill="#000" />
<rect x="211" y="269" width="1" height="31" fill="#000" />
<rect x="215" y="269" width="1" height="30" fill="#000" />
<rect x="219" y="269" width="1" height="27" fill="#000" />
<rect x="223" y="269" width="1" height="24" fill="#000" />
<rect x="227" y="269" width="1" height="23" fill="#000" />
<rect x="231" y="269" width="1" height="21" fill="#000" />
<rect x="235" y="269" width="1" height="20" fill="#000" />
<rect x="239" y="269" width="1" height="18" fill="#000" />
<rect x="243" y="269" width="1" height="16" fill="#000" />
<rect x="247" y="269" width="1" height="14" fill="#000" />
<rect x="251" y="269" width="1" height="12" fill="#000" />
<rect x="255" y="269" width="1" height="10" fill="#000" />
<rect x="259" y="269" width="1" height="8" fill="#000" />
<rect x="263" y="269" width="1" height="7" fill="#000" />
<rect x="267" y="269" width="1" height="5" fill="#000" />
<rect x="271" y="269" width="1" height="2" fill="#000" />
<rect x="275" y="269" width="1" height="1" fill="#000" />
<rect x="547" y="269" width="1" height="2" fill="#000" />
<rect x="551" y="269" width="1" height="1" fill="#000" />
<rect x="555" y="269" width="1" height="1" fill="#000" />
<rect x="559" y="269" width="1" height="2" fill="#000" />
<rect x="563" y="269" width="1" height="3" fill="#000" />
<rect x="567" y="269" width="1" height="4" fill="#000" />
<rect x="571" y="269" width="1" height="6" fill="#000" />
<rect x="575" y="269" width="1" height="9" fill="#000" />
<rect x="579" y="269" width="1" height="11" fill="#000" />
<rect x="583" y="269" width="1" height="14" fill="#000" />
<rect x="587" y="269" width="1" height="16" fill="#000" />
<rect x="591" y="269" width="1" height="19" fill="#000" />
<rect x="595" y="269" width="1" height="23" fill="#000" />
<rect x="599" y="269" width="1" height="26" fill="#000" />
<rect x="603" y="269" width="1" height="29" fill="#000" />
<rect x="607" y="269" width="1" height="33" fill="#000" />
<rect x="611" y="269" width="1" height="37" fill="#000" />
<rect x="615" y="269" width="1" height="39" fill="#000" />
<rect x="619" y="269" width="1" height="43" fill="#000" />
<rect x="623" y="269" width="1" height="47" fill="#000" />
<rect x="627" y="269" width="1" height="50" fill="#000" />
<rect x="631" y="269" width="1" height="53" fill="#000" />
<rect x="635" y="269" width="1" height="55" fill="#000" />
<rect x="639" y="269" width="1" height="57" fill="#000" />
<rect x="643" y="269" width="1" height="60" fill="#000" />
<rect x="647" y="269" width="1" height="62" fill="#000" />
<rect x="651" y="269" width="1" height="66" fill="#000" />
<rect x="655" y="269" width="1" height="67" fill="#000" />
<rect x="659" y="269" width="1" height="69" fill="#000" />
<rect x="663" y="269" width="1" height="69" fill="#000" />
<rect x="667" y="269" width="1" height="69" fill="#000" />
<rect x="671" y="269" width="1" height="69" fill="#000" />
<rect x="675" y="269" width="1" height="69" fill="#000" />
<rect x="679" y="269" width="1" height="68" fill="#000" />
<rect x="683" y="269" width="1" height="68" fill="#000" />
<rect x="687" y="269" width="1" height="66" fill="#000" />
<rect x="691" y="269" width="1" height="64" fill="#000" />
<rect x="695" y="269" width="1" height="61" fill="#000" />
<rect x="699" y="269" width="1" height="59" fill="#000" />
<rect x="703" y="269" width="1" height="56" fill="#000" />
<rect x="707" y="269" width="1" height="55" fill="#000" />
<rect x="711" y="269" width="1" height="53" fill="#000" />
<rect x="715" y="269" width="1" height="52" fill="#000" />
<rect x="719" y="269" width="1" height="51" fill="#000" />
<rect x="723" y="269" width="1" height="50" fill="#000" />
<rect x="727" y="269" width="1" height="49" fill="#000" />
<rect x="731" y="269" width="1" height="46" fill="#000" />
<rect x="735" y="269" width="1" height="43" fill="#000" />
<rect x="739" y="269" width="1" height="40" fill="#000" />
<rect x="743" y="269" width="1" height="37" fill="#000" />
<rect x="747" y="269" width="1" height="34" fill="#000" />
<rect x="751" y="269" width="1" height="32" fill="#000" />
<rect x="755" y="269" width="1" height="30" fill="#000" />
<rect x="759" y="269" width="1" height="29" fill="#000" />
<rect x="763" y="269" width="1" height="27" fill="#000" />
<rect x="767" y="269" width="1" height="26" fill="#000" />
<rect x="771" y="269" width="1" height="24" fill="#000" />
<rect x="775" y="269" width="1" height="23" fill="#000" />
<rect x="779" y="269" width="1" height="20" fill="#000" />
<rect x="783" y="269" width="1" height="18" fill="#000" />
<rect x="787" y="269" width="1" height="14" fill="#000" />
<rect x="791" y="269" width="1" height="12" fill="#000" />
<rect x="795" y="269" width="1" height="11" fill="#000" />
<rect x="799" y="269" width="1" height="10" fill="#000" />
<rect x="803" y="269" width="1" height="9" fill="#000" />
<rect x="807" y="269" width="1" height="6" fill="#000" />
<rect x="811" y="269" width="1" height="3" fill="#000" />
<rect x="279" y="267" width="1" height="3" fill="#000" />
<rect x="283" y="263" width="1" height="7" fill="#000" />
<rect x="287" y="260" width="1" height="10" fill="#000" />
<rect x="291" y="257" width="1" height="13" fill="#000" />
<rect x="295" y="254" width="1" height="16" fill="#000" />
<rect x="299" y="251" width="1" height="19" fill="#000" />
<rect x="303" y="248" width="1" height="22" fill="#000" />
<rect x="307" y="245" width="1" height="25" fill="#000" />
<rect x="311" y="241" width="1" height="29" fill="#000" />
<rect x="315" y="238" width="1" height="32" fill="#000" />
<rect x="319" y="235" width="1" height="35" fill="#000" />
<rect x="323" y="232" width="1" height="38" fill="#000" />
<rect x="327" y="229" width="1" height="41" fill="#000" />
<rect x="331" y="228" width="1" height="42" fill="#000" />
<rect x="335" y="226" width="1" height="44" fill="#000" />
<rect x="339" y="225" width="1" height="45" fill="#000" />
<rect x="343" y="224" width="1" height="46" fill="#000" />
<rect x="347" y="222" width="1" height="48" fill="#000" />
<rect x="351" y="221" width="1" height="49" fill="#000" />
<rect x="355" y="219" width="1" height="51" fill="#000" />
<rect x="359" y="219" width="1" height="51" fill="#000" />
<rect x="363" y="219" width="1" height="51" fill="#000" />
<rect x="367" y="218" width="1" height="52" fill="#000" />
<rect x="371" y="218" width="1" height="52" fill="#000" />
<rect x="375" y="217" width="1" height="53" fill="#000" />
<rect x="379" y="216" width="1" height="54" fill="#000" />
<rect x="383" y="215" width="1" height="55" fill="#000" />
<rect x="387" y="212" width="1" height="58" fill="#000" />
<rect x="391" y="214" width="1" height="56" fill="#000" />
<rect x="395" y="214" width="1" height="56" fill="#000" />
<rect x="399" y="216" width="1" height="54" fill="#000" />
<rect x="403" y="217" width="1" height="53" fill="#000" />
<rect x="407" y="219" width="1" height="51" fill="#000" />
<rect x="411" y="219" width="1" height="51" fill="#000" />
<rect x="415" y="221" width="1" height="49" fill="#000" />
<rect x="419" y="222" width="1" height="48" fill="#000" />
<rect x="423" y="224" width="1" height="46" fill="#000" />
<rect x="427" y="226" width="1" height="44" fill="#000" />
<rect x="431" y="227" width="1" height="43" fill="#000" />
<rect x="435" y="227" width="1" height="43" fill="#000" />
<rect x="439" y="229" width="1" height="41" fill="#000" />
<rect x="443" y="231" width="1" height="39" fill="#000" />
<rect x="447" y="234" width="1" height="36" fill="#000" />
<rect x="451" y="236" width="1" height="34" fill="#000" />
<rect x="455" y="236" width="1" height="34" fill="#000" />
<rect x="459" y="238" width="1" height="32" fill="#000" />
<rect x="463" y="240" width="1" height="30" fill="#000" />
<rect x="467" y="243" width="1" height="27" fill="#000" />
<rect x="471" y="245" width="1" height="25" fill="#000" />
<rect x="475" y="247" width="1" height="23" fill="#000" />
<rect x="479" y="249" width="1" height="21" fill="#000" />
<rect x="483" y="252" width="1" height="18" fill="#000" />
<rect x="487" y="254" width="1" height="16" fill="#000" />
<rect x="491" y="256" width="1" height="14" fill="#000" />
<rect x="495" y="258" width="1" height="12" fill="#000" />
<rect x="499" y="261" width="1" height="9" fill="#000" />
<rect x="503" y="263" width="1" height="7" fill="#000" />
<rect x="507" y="263" width="1" height="7" fill="#000" />
<rect x="511" y="264" width="1" height="6" fill="#000" />
<rect x="515" y="265" width="1" height="5" fill="#000" />
<rect x="519" y="266" width="1" height="4" fill="#000" />
<rect x="523" y="267" width="1" height="3" fill="#000" />
<rect x="527" y="268" width="1" height="2" fill="#000" />
<rect x="531" y="269" width="1" height="1" fill="#000" />
<rect x="539" y="269" width="1" height="1" fill="#000" />
<rect x="543" y="269" width="1" height="1" fill="#000" />
<rect x="819" y="267" width="1" height="3" fill="#000" />
<rect x="823" y="265" width="1" height="5" fill="#000" />
<rect x="827" y="263" width="1" height="7" fill="#000" />
<rect x="831" y="260" width="1" height="10" fill="#000" />
<rect x="835" y="257" width="1" height="13" fill="#000" />
<rect x="839" y="255" width="1" height="15" fill="#000" />
<rect x="843" y="252" width="1" height="18" fill="#000" />
<rect x="847" y="250" width="1" height="20" fill="#000" />
<rect x="851" y="248" width="1" height="22" fill="#000" />
<rect x="855" y="246" width="1" height="24" fill="#000" />
<rect x="859" y="245" width="1" height="25" fill="#000" />
<rect x="863" y="244" width="1" height="26" fill="#000" />
<rect x="867" y="243" width="1" height="27" fill="#000" />
<rect x="871" y="243" width="1" height="27" fill="#000" />
<rect x="875" y="243" width="1" height="27" fill="#000" />
<rect x="879" y="242" width="1" height="28" fill="#000" />
<rect x="883" y="241" width="1" height="29" fill="#000" />
<rect x="887" y="241" width="1" height="29" fill="#000" />
<rect x="891" y="242" width="1" height="28" fill="#000" />
<rect x="895" y="242" width="1" height="28" fill="#000" />
<rect x="899" y="243" width="1" height="27" fill="#000" />
<rect x="903" y="244" width="1" height="26" fill="#000" />
<rect x="907" y="245" width="1" height="25" fill="#000" />
<rect x="911" y="246" width="1" height="24" fill="#000" />
<rect x="915" y="248" width="1" height="22" fill="#000" />
<rect x="919" y="250" width="1" height="20" fill="#000" />
<rect x="923" y="252" width="1" height="18" fill="#000" />
<rect x="927" y="253" width="1" height="17" fill="#000" />
<rect x="931" y="253" width="1" height="17" fill="#000" />
<rect x="935" y="254" width="1" height="16" fill="#000" />
<rect x="939" y="253" width="1" height="17" fill="#000" />
<rect x="943" y="252" width="1" height="18" fill="#000" />
<rect x="947" y="251" width="1" height="19" fill="#000" />
<rect x="951" y="249" width="1" height="21" fill="#000" />
<rect x="955" y="249" width="1" height="21" fill="#000" />
<rect x="959" y="248" width="1" height="22" fill="#000" />
<rect x="963" y="248" width="1" height="22" fill="#000" />
<rect x="967" y="248" width="1" height="22" fill="#000" />
<rect x="971" y="248" width="1" height="22" fill="#000" />
</g>
<polyline points="3.5,319.1 7.5,321.5 11.5,323.3 15.5,324.2 19.5,324.9 23.5,325.4 27.5,325.3 31.5,324.2 35.5,322.9 39.5,321.2 43.5,319.2 47.5,317.1 51.5,314.5 55.5,312.0 59.5,309.6 63.5,307.5 67.5,305.0 71.5,302.6 75.5,300.6 79.5,298.9 83.5,297.2 87.5,295.4 91.5,294.2 95.5,293.5 99.5,293.5 103.5,293.8 107.5,294.1 111.5,294.3 115.5,295.2 119.5,296.2 123.5,297.2 127.5,298.1 131.5,299.0 135.5,299.8 139.5,300.9 143.5,302.1 147.5,303.2 151.5,304.0 155.5,304.7 159.5,305.4 163.5,306.0 167.5,306.7 171.5,307.4 175.5,308.1 179.5,308.7 183.5,308.5 187.5,308.2 191.5,307.7 195.5,307.2 199.5,306.7 203.5,306.2 207.5,305.7 211.5,305.2 215.5,304.7 219.5,304.2 223.5,303.7 227.5,303.2 231.5,302.7 235.5,302.0 239.5,301.2 243.5,300.4 247.5,299.0 251.5,297.4 255.5,295.7 259.5,294.0 263.5,292.3 267.5,290.6 271.5,289.0 275.5,287.5 279.5,286.0 283.5,283.9 287.5,281.7 291.5,279.4 295.5,277.1 299.5,274.5 303.5,271.9 307.5,269.8 311.5,267.7 315.5,265.0 319.5,262.4 323.5,259.8 327.5,257.1 331.5,254.3 335.5,251.5 339.5,248.8 343.5,246.1 347.5,243.4 351.5,240.7 355.5,238.3 359.5,236.0 363.5,233.8 367.5,231.7 371.5,229.7 375.5,227.9 379.5,226.0 383.5,224.3 387.5,222.9 391.5,221.6 395.5,220.5 399.5,219.6 403.5,218.5 407.5,217.6 411.5,217.4 415.5,217.4 419.5,217.4 423.5,217.4 427.5,217.7 431.5,218.2 435.5,218.7 439.5,219.2 443.5,219.7 447.5,220.3 451.5,221.4 455.5,222.5 459.5,223.4 463.5,224.6 467.5,225.9 471.5,227.4 475.5,229.1 479.5,230.9 483.5,232.4 487.5,234.3 491.5,236.2 495.5,238.0 499.5,240.0 503.5,241.9 507.5,243.7 511.5,245.6 515.5,247.5 519.5,249.4 523.5,251.0 527.5,252.7 531.5,254.4 535.5,256.1 539.5,257.6 543.5,259.0 547.5,260.5 551.5,262.0 555.5,263.2 559.5,264.4 563.5,265.5 567.5,266.2 571.5,267.3 575.5,268.5 579.5,269.7 583.5,271.0 587.5,272.2 591.5,273.4 595.5,274.8 599.5,276.1 603.5,277.5 607.5,279.4 611.5,281.4 615.5,283.4 619.5,285.2 623.5,287.3 627.5,290.2 631.5,292.9 635.5,295.6 639.5,298.6 643.5,301.2 647.5,303.7 651.5,306.3 655.5,309.0 659.5,312.0 663.5,315.6 667.5,318.1 671.5,320.4 675.5,322.8 679.5,324.8 683.5,326.6 687.5,328.3 691.5,329.7 695.5,330.8 699.5,331.4 703.5,332.0 707.5,332.4 711.5,332.4 715.5,332.4 719.5,332.3 723.5,331.4 727.5,330.4 731.5,329.4 735.5,328.5 739.5,326.9 743.5,325.2 747.5,323.7 751.5,321.9 755.5,320.1 759.5,318.1 763.5,316.2 767.5,314.3 771.5,312.3 775.5,310.4 779.5,308.4 783.5,306.3 787.5,304.3 791.5,302.4 795.5,300.4 799.5,298.3 803.5,296.2 807.5,293.8 811.5,291.6 815.5,289.4 819.5,287.3 823.5,285.0 827.5,282.7 831.5,280.7 835.5,278.6 839.5,276.6 843.5,274.3 847.5,272.2 851.5,270.0 855.5,267.3 859.5,265.1 863.5,263.2 867.5,261.2 871.5,259.3 875.5,257.4 879.5,255.2 883.5,253.3 887.5,251.6 891.5,250.3 895.5,248.8 899.5,247.3 903.5,246.2 907.5,245.5 911.5,244.9 915.5,244.4 919.5,244.3 923.5,244.3 927.5,244.3 931.5,244.8 935.5,245.3 939.5,245.7 943.5,246.2 947.5,246.6 951.5,246.8 955.5,247.3 959.5,247.8 963.5,248.0 967.5,248.3 971.5,248.5" fill="none" stroke="#FF0000" stroke-width="1" stroke-dasharray="3 3"/>
<polyline points="3.5,371.8 7.5,367.9 11.5,363.9 15.5,357.9 19.5,354.6 23.5,355.9 27.5,357.9 31.5,359.9 35.5,362.9 39.5,386.7 43.5,413.5 47.5,434.5 51.5,432.8 55.5,432.4 59.5,433.5 63.5,449.6 67.5,462.5 71.5,466.5 75.5,458.6 79.5,456.6 83.5,469.5 87.5,477.5 91.5,480.4 95.5,480.4 99.5,481.0 103.5,481.0 107.5,481.0 111.5,480.4 115.5,465.5 119.5,443.0 123.5,409.5 127.5,380.8 131.5,367.9 135.5,366.5 139.5,363.9 143.5,361.3 147.5,371.8 151.5,377.8 155.5,390.7 159.5,401.5 163.5,422.0 167.5,440.0 171.5,455.6 175.5,467.5 179.5,458.6 183.5,443.5 187.5,423.6 191.5,416.7 195.5,411.0 199.5,408.7 203.5,404.7 207.5,397.3 211.5,383.8 215.5,366.9 219.5,358.9 223.5,354.9 227.5,360.5 231.5,376.4 235.5,392.3 239.5,391.5 243.5,388.0 247.5,376.6 251.5,377.2 255.5,377.2 259.5,381.2 263.5,372.8 267.5,365.9 271.5,356.9 275.5,357.9 279.5,364.9 283.5,363.9 287.5,365.9 291.5,360.9 295.5,366.9 299.5,369.3 303.5,369.3 307.5,364.9 311.5,358.5 315.5,360.5 319.5,358.5 323.5,362.9 327.5,363.9 331.5,380.8 335.5,390.7 339.5,403.8 343.5,405.5 347.5,406.8 351.5,404.4 355.5,399.8 359.5,417.6 363.5,435.5 367.5,454.6 371.5,439.7 375.5,418.0 379.5,404.4 383.5,400.8 387.5,395.6 391.5,403.8 395.5,414.2 399.5,440.0 403.5,462.5 407.5,456.6 411.5,453.6 415.5,457.6 419.5,465.5 423.5,472.5 427.5,466.5 431.5,458.6 435.5,441.6 439.5,444.6 443.5,459.6 447.5,471.5 451.5,459.6 455.5,442.6 459.5,426.6 463.5,436.5 467.5,453.6 471.5,463.5 475.5,455.2 479.5,461.0 483.5,467.5 487.5,474.2 491.5,469.5 495.5,465.1 499.5,469.1 503.5,465.5 507.5,449.0 511.5,428.0 515.5,413.8 519.5,413.0 523.5,405.5 527.5,410.8 531.5,416.7 535.5,421.2 539.5,423.2 543.5,425.2 547.5,406.8 551.5,382.8 555.5,372.4 559.5,386.7 563.5,414.2 567.5,446.0 571.5,467.5 575.5,471.1 579.5,471.9 583.5,471.5 587.5,475.1 591.5,477.9 595.5,481.4 599.5,485.8 603.5,483.8 607.5,483.4 611.5,482.4 615.5,476.5 619.5,474.5 623.5,472.5 627.5,476.5 631.5,472.5 635.5,460.6 639.5,450.0 643.5,451.6 647.5,460.6 651.5,467.1 655.5,454.6 659.5,438.0 663.5,405.2 667.5,391.0 671.5,372.8 675.5,384.8 679.5,379.8 683.5,377.8 687.5,362.9 691.5,356.9 695.5,351.4 699.5,351.4 703.5,354.0 707.5,366.9 711.5,382.8 715.5,398.3 719.5,402.7 723.5,404.6 727.5,406.2 731.5,390.7 735.5,376.8 739.5,357.3 743.5,359.9 747.5,362.5 751.5,372.8 755.5,384.8 759.5,397.1 763.5,393.1 767.5,402.2 771.5,399.7 775.5,399.7 779.5,378.8 783.5,363.9 787.5,354.6 791.5,361.9 795.5,386.7 799.5,413.2 803.5,423.2 807.5,401.3 811.5,370.4 815.5,356.9 819.5,354.9 823.5,361.9 827.5,375.8 831.5,373.8 835.5,366.9 839.5,359.3 843.5,360.9 847.5,360.5 851.5,360.5 855.5,366.9 859.5,379.8 863.5,394.7 867.5,410.2 871.5,435.5 875.5,458.6 879.5,461.6 883.5,444.1 887.5,444.1 891.5,455.6 895.5,475.5 899.5,477.9 903.5,481.4 907.5,479.4 911.5,476.5 915.5,476.5 919.5,477.1 923.5,481.8 927.5,469.5 931.5,443.0 935.5,423.0 939.5,405.8 943.5,392.8 947.5,370.8 951.5,364.5 955.5,372.8 959.5,386.7 963.5,394.3 967.5,399.0 971.5,400.0" fill="none" stroke="#00FF00" stroke-width="1"/>
<polyline points="3.5,365.9 7.5,367.5 11.5,367.9 15.5,363.2 19.5,358.8 23.5,356.1 27.5,356.1 31.5,357.9 35.5,360.2 39.5,369.8 43.5,387.7 47.5,411.6 51.5,426.9 55.5,433.2 59.5,432.9 63.5,438.5 67.5,448.5 71.5,459.5 75.5,462.5 79.5,460.6 83.5,461.6 87.5,467.9 91.5,475.8 95.5,479.4 99.5,480.6 103.5,480.8 107.5,481.0 111.5,480.8 115.5,475.6 119.5,463.0 123.5,439.3 127.5,411.1 131.5,386.1 135.5,371.7 139.5,366.1 143.5,363.9 147.5,365.7 151.5,370.3 155.5,380.1 159.5,390.0 163.5,404.7 167.5,421.2 171.5,439.2 175.5,454.4 179.5,460.6 183.5,456.5 187.5,441.9 191.5,427.9 195.5,417.1 199.5,412.1 203.5,408.1 207.5,403.6 211.5,395.3 215.5,382.7 219.5,369.9 223.5,360.2 227.5,358.1 231.5,363.9 235.5,376.4 239.5,386.7 243.5,390.6 247.5,385.4 251.5,380.6 255.5,377.0 259.5,378.5 263.5,377.1 267.5,373.3 271.5,365.2 275.5,360.2 279.5,359.9 283.5,362.2 287.5,364.9 291.5,363.6 295.5,364.6 299.5,365.7 303.5,368.5 307.5,367.8 311.5,364.2 315.5,361.3 319.5,359.2 323.5,360.6 327.5,361.8 331.5,369.2 335.5,378.5 339.5,391.8 343.5,400.0 347.5,405.4 351.5,405.6 355.5,403.7 359.5,407.3 363.5,417.6 367.5,435.9 371.5,443.3 375.5,437.4 379.5,420.7 383.5,407.7 387.5,400.3 391.5,400.1 395.5,404.5 399.5,419.3 403.5,438.9 407.5,453.0 411.5,457.6 415.5,455.9 419.5,458.9 423.5,465.2 427.5,468.2 431.5,465.9 435.5,455.6 439.5,448.3 443.5,448.6 447.5,458.6 451.5,463.6 455.5,457.9 459.5,442.9 463.5,435.2 467.5,438.9 471.5,451.2 475.5,457.4 479.5,459.9 483.5,461.2 487.5,467.6 491.5,470.4 495.5,469.6 499.5,467.9 503.5,466.6 507.5,461.2 511.5,447.5 515.5,430.3 519.5,418.3 523.5,410.8 527.5,409.8 531.5,411.0 535.5,416.2 539.5,420.4 543.5,423.2 547.5,418.4 551.5,404.9 555.5,387.3 559.5,380.6 563.5,391.1 567.5,415.6 571.5,442.6 575.5,461.5 579.5,470.2 583.5,471.5 587.5,472.8 591.5,474.8 595.5,478.1 599.5,481.7 603.5,483.7 607.5,484.3 611.5,483.2 615.5,480.8 619.5,477.8 623.5,474.5 627.5,474.5 631.5,473.8 635.5,469.9 639.5,461.0 643.5,454.1 647.5,454.1 651.5,459.8 655.5,460.8 659.5,453.2 663.5,432.6 667.5,411.4 671.5,389.7 675.5,382.9 679.5,379.1 683.5,380.8 687.5,373.5 691.5,365.9 695.5,357.1 699.5,353.2 703.5,352.3 707.5,357.4 711.5,367.9 715.5,382.7 719.5,394.6 723.5,401.9 727.5,404.5 731.5,400.5 735.5,391.2 739.5,374.9 743.5,364.7 747.5,359.9 751.5,365.1 755.5,373.4 759.5,384.9 763.5,391.7 767.5,397.5 771.5,398.3 775.5,400.5 779.5,392.7 783.5,380.8 787.5,365.8 791.5,360.1 795.5,367.7 799.5,387.3 803.5,407.7 807.5,412.6 811.5,398.3 815.5,376.2 819.5,360.7 823.5,357.9 827.5,364.2 831.5,370.5 835.5,372.2 839.5,366.7 843.5,362.4 847.5,360.2 851.5,360.6 855.5,362.6 859.5,369.1 863.5,380.5 867.5,394.9 871.5,413.5 875.5,434.8 879.5,451.9 883.5,454.8 887.5,449.9 891.5,447.9 895.5,458.4 899.5,469.7 903.5,478.3 907.5,479.6 911.5,479.1 915.5,477.5 919.5,476.7 923.5,478.5 927.5,476.1 931.5,464.8 935.5,445.2 939.5,423.9 943.5,407.2 947.5,389.8 951.5,376.0 955.5,369.4 959.5,374.7 963.5,384.6 967.5,393.3 971.5,397.8" fill="none" stroke="#FF0000" stroke-width="1" stroke-dasharray="3 3"/>
<rect x="2" y="2" width="1219" height="1" fill="#000" />
<rect x="2" y="203" width="1219" height="1" fill="#000" />
<rect x="2" y="2" width="1" height="202" fill="#000" />
<rect x="1220" y="2" width="1" height="202" fill="#000" />
<rect x="2" y="205" width="1219" height="1" fill="#000" />
<rect x="2" y="345" width="1219" height="1" fill="#000" />
<rect x="2" y="205" width="1" height="141" fill="#000" />
<rect x="1220" y="205" width="1" height="141" fill="#000" />
<rect x="2" y="347" width="1219" height="1" fill="#000" />
<rect x="2" y="489" width="1219" height="1" fill="#000" />
<rect x="2" y="347" width="1" height="143" fill="#000" />
<rect x="1220" y="347" width="1" height="143" fill="#000" />
<g id="axis">
<rect x="1221" y="35" width="2" height="1" fill="#000" />
<text x="1226.5" y="38" font-size="10" fill="#000" stroke="#000" stroke-width="0.12" textLength="33.7" lengthAdjust="spacingAndGlyphs" text-anchor="start">1.07070</text>
<rect x="1221" y="68" width="2" height="1" fill="#000" />
<text x="1226.5" y="71" font-size="10" fill="#000" stroke="#000" stroke-width="0.12" textLength="33.7" lengthAdjust="spacingAndGlyphs" text-anchor="start">1.04795</text>
<rect x="1221" y="101" width="2" height="1" fill="#000" />
<text x="1226.5" y="104" font-size="10" fill="#000" stroke="#000" stroke-width="0.12" textLength="33.7" lengthAdjust="spacingAndGlyphs" text-anchor="start">1.02520</text>
<rect x="1221" y="134" width="2" height="1" fill="#000" />
<text x="1226.5" y="137" font-size="10" fill="#000" stroke="#000" stroke-width="0.12" textLength="33.7" lengthAdjust="spacingAndGlyphs" text-anchor="start">1.00245</text>
<rect x="1221" y="167" width="2" height="1" fill="#000" />
<text x="1226.5" y="170" font-size="10" fill="#000" stroke="#000" stroke-width="0.12" textLength="33.7" lengthAdjust="spacingAndGlyphs" text-anchor="start">0.97970</text>
<rect x="1221" y="200" width="2" height="1" fill="#000" />
<text x="1226.5" y="203" font-size="10" fill="#000" stroke="#000" stroke-width="0.12" textLength="33.7" lengthAdjust="spacingAndGlyphs" text-anchor="start">0.95695</text>
<rect x="1222" y="66" width="36" height="11" fill="#000" />
<text x="1226.5" y="75" font-size="10" fill="#EEE8AA" stroke="#EEE8AA" stroke-width="0.12" textLength="33.7" lengthAdjust="spacingAndGlyphs" text-anchor="start">1.04477</text>
<rect x="1221" y="207" width="1" height="1" fill="#000" />
<text x="1224" y="216" font-size="10" fill="#000" stroke="#000" stroke-width="0.12" textLength="39" lengthAdjust="spacingAndGlyphs" text-anchor="start">0.021159</text>
<rect x="1221" y="269" width="1" height="1" fill="#000" />
<text x="1224" y="272" font-size="10" fill="#000" stroke="#000" stroke-width="0.12" textLength="18" lengthAdjust="spacingAndGlyphs" text-anchor="start">0.00</text>
<rect x="1221" y="344" width="1" height="1" fill="#000" />
<text x="1224" y="342" font-size="10" fill="#000" stroke="#000" stroke-width="0.12" textLength="42" lengthAdjust="spacingAndGlyphs" text-anchor="start">-0.025393</text>
<rect x="1221" y="349" width="1" height="1" fill="#000" />
<text x="1224.3" y="358" font-size="10" fill="#000" stroke="#000" stroke-width="0.12" textLength="15.2" lengthAdjust="spacingAndGlyphs" text-anchor="start">100</text>
<text x="1223" y="379" font-size="10" fill="#000" stroke="#000" stroke-width="0.12" textLength="10.4" lengthAdjust="spacingAndGlyphs" text-anchor="start">80</text>
<text x="1223" y="463" font-size="10" fill="#000" stroke="#000" stroke-width="0.12" textLength="10.4" lengthAdjust="spacingAndGlyphs" text-anchor="start">20</text>
<rect x="1221" y="488" width="1" height="1" fill="#000" />
<text x="1224.3" y="486" font-size="10" fill="#000" stroke="#000" stroke-width="0.12" textLength="5.2" lengthAdjust="spacingAndGlyphs" text-anchor="start">0</text>
</g>
<g id="dates">
<rect x="3" y="490" width="1" height="3" fill="#000" />
<text x="3" y="502" font-size="10" fill="#000" stroke="#000" stroke-width="0.12" textLength="50.1" lengthAdjust="spacingAndGlyphs" text-anchor="start">19 Oct 2011</text>
<rect x="67" y="490" width="1" height="3" fill="#000" />
<text x="67" y="502" font-size="10" fill="#000" stroke="#000" stroke-width="0.12" textLength="52.2" lengthAdjust="spacingAndGlyphs" text-anchor="start">10 Nov 2011</text>
<rect x="131" y="490" width="1" height="3" fill="#000" />
<text x="131" y="502" font-size="10" fill="#000" stroke="#000" stroke-width="0.12" textLength="47.0" lengthAdjust="spacingAndGlyphs" text-anchor="start">2 Dec 2011</text>
<rect x="195" y="490" width="1" height="3" fill="#000" />
<text x="195" y="502" font-size="10" fill="#000" stroke="#000" stroke-width="0.12" textLength="52.2" lengthAdjust="spacingAndGlyphs" text-anchor="start">26 Dec 2011</text>
<rect x="259" y="490" width="1" height="3" fill="#000" />
<text x="259" y="502" font-size="10" fill="#000" stroke="#000" stroke-width="0.12" textLength="51.4" lengthAdjust="spacingAndGlyphs" text-anchor="start">17 Jan 2012</text>
<rect x="323" y="490" width="1" height="3" fill="#000" />
<text x="323" y="502" font-size="10" fill="#000" stroke="#000" stroke-width="0.12" textLength="47.2" lengthAdjust="spacingAndGlyphs" text-anchor="start">8 Feb 2012</text>
<rect x="387" y="490" width="1" height="3" fill="#000" />
<text x="387" y="502" font-size="10" fill="#000" stroke="#000" stroke-width="0.12" textLength="47.2" lengthAdjust="spacingAndGlyphs" text-anchor="start">1 Mar 2012</text>
<rect x="451" y="490" width="1" height="3" fill="#000" />
<text x="451" y="502" font-size="10" fill="#000" stroke="#000" stroke-width="0.12" textLength="52.4" lengthAdjust="spacingAndGlyphs" text-anchor="start">23 Mar 2012</text>
<rect x="515" y="490" width="1" height="3" fill="#000" />
<text x="515" y="502" font-size="10" fill="#000" stroke="#000" stroke-width="0.12" textLength="50.3" lengthAdjust="spacingAndGlyphs" text-anchor="start">16 Apr 2012</text>
<rect x="579" y="490" width="1" height="3" fill="#000" />
<text x="579" y="502" font-size="10" fill="#000" stroke="#000" stroke-width="0.12" textLength="48.8" lengthAdjust="spacingAndGlyphs" text-anchor="start">8 May 2012</text>
<rect x="643" y="490" width="1" height="3" fill="#000" />
<text x="643" y="502" font-size="10" fill="#000" stroke="#000" stroke-width="0.12" textLength="53.9" lengthAdjust="spacingAndGlyphs" text-anchor="start">30 May 2012</text>
<rect x="707" y="490" width="1" height="3" fill="#000" />
<text x="707" y="502" font-size="10" fill="#000" stroke="#000" stroke-width="0.12" textLength="51.4" lengthAdjust="spacingAndGlyphs" text-anchor="start">21 Jun 2012</text>
<rect x="771" y="490" width="1" height="3" fill="#000" />
<text x="771" y="502" font-size="10" fill="#000" stroke="#000" stroke-width="0.12" textLength="48.2" lengthAdjust="spacingAndGlyphs" text-anchor="start">13 Jul 2012</text>
<rect x="835" y="490" width="1" height="3" fill="#000" />
<text x="835" y="502" font-size="10" fill="#000" stroke="#000" stroke-width="0.12" textLength="47.2" lengthAdjust="spacingAndGlyphs" text-anchor="start">6 Aug 2012</text>
<rect x="899" y="490" width="1" height="3" fill="#000" />
<text x="899" y="502" font-size="10" fill="#000" stroke="#000" stroke-width="0.12" textLength="52.4" lengthAdjust="spacingAndGlyphs" text-anchor="start">28 Aug 2012</text>
<rect x="963" y="490" width="1" height="3" fill="#000" />
<text x="963" y="502" font-size="10" fill="#000" stroke="#000" stroke-width="0.12" textLength="52.9" lengthAdjust="spacingAndGlyphs" text-anchor="start">19 Sep 2012</text>
</g>
</svg>
</body></html>
